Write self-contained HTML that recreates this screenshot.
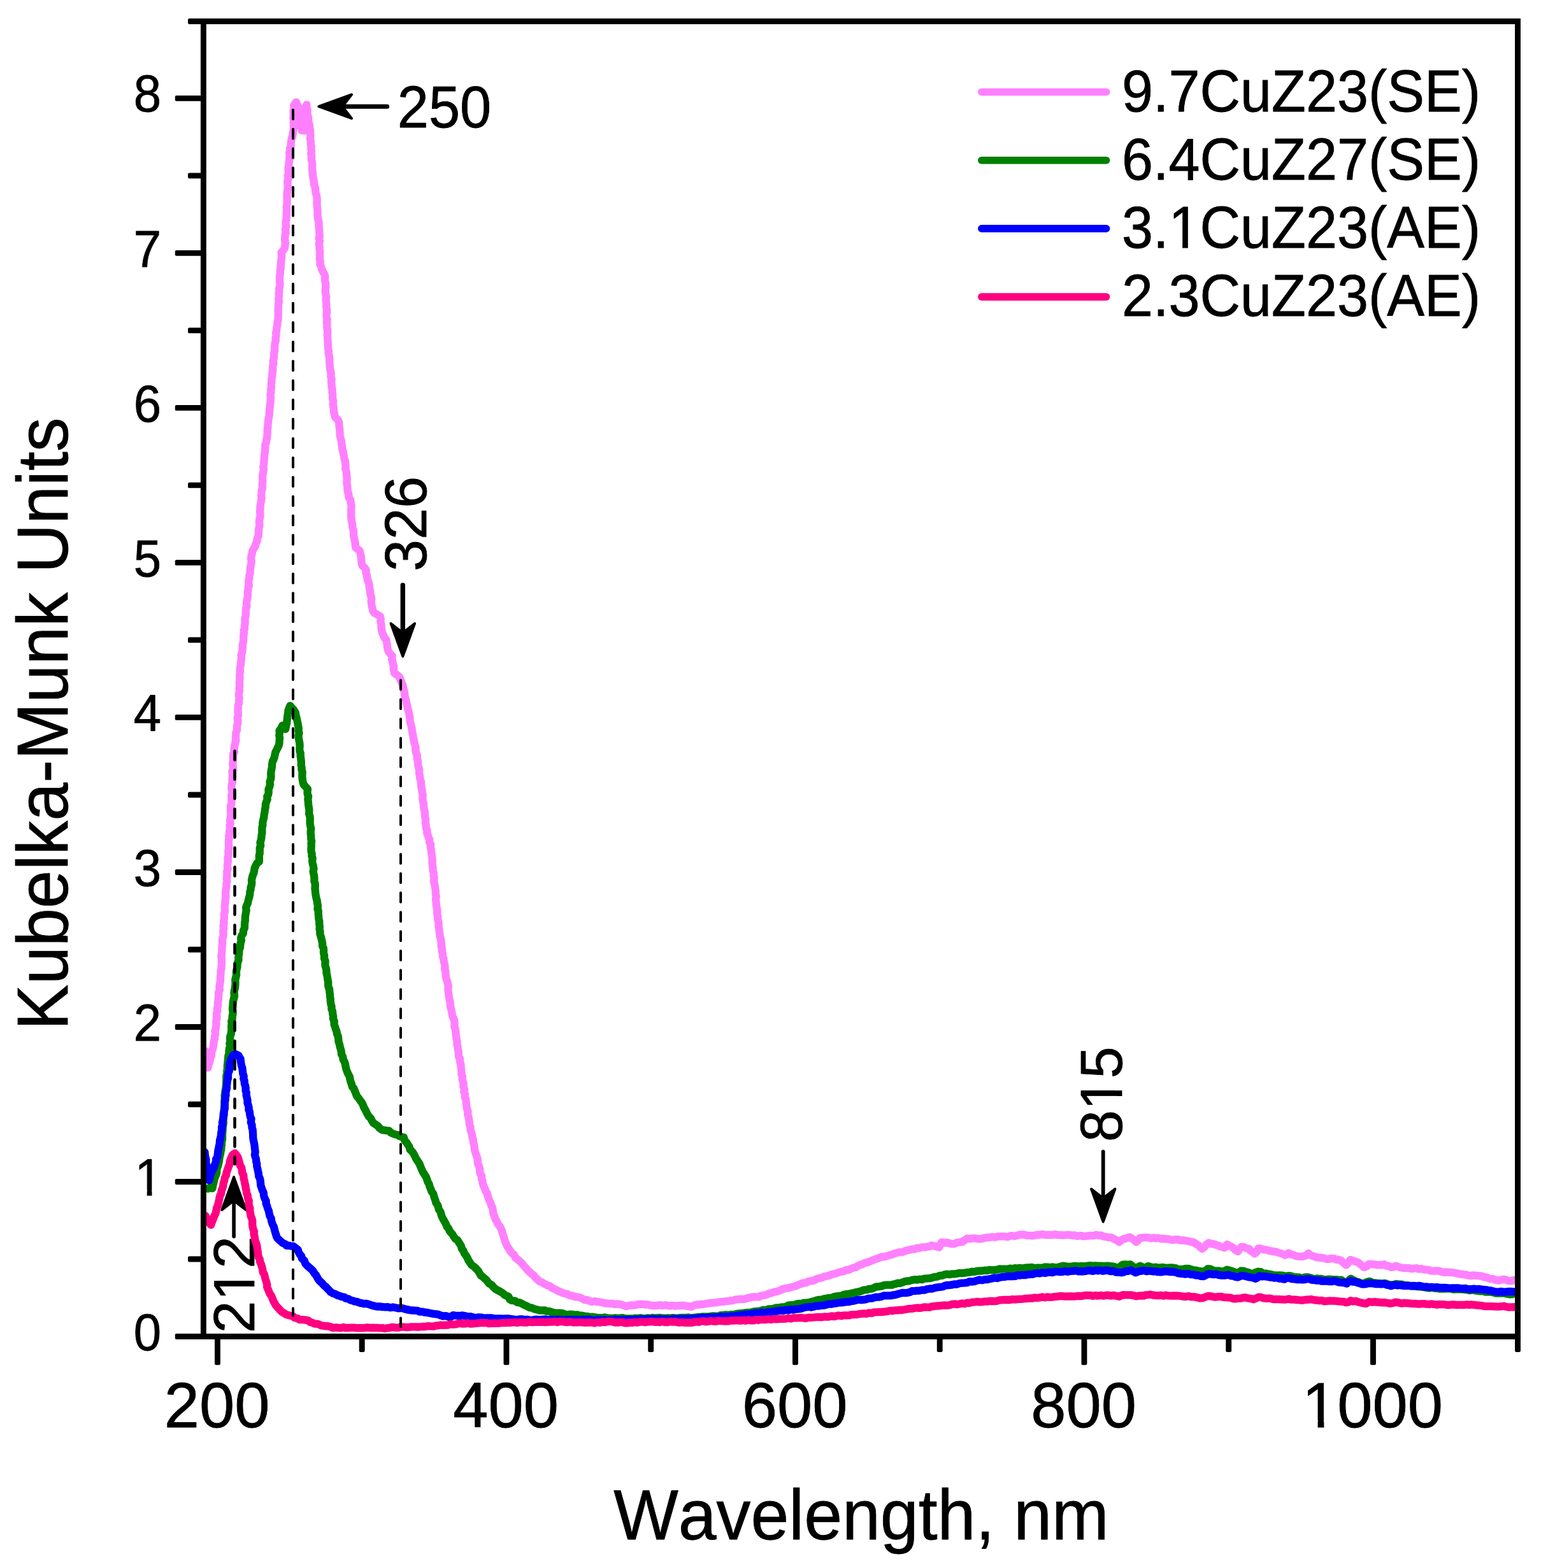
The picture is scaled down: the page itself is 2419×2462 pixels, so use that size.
<!DOCTYPE html><html><head><meta charset="utf-8"><title>Kubelka-Munk spectra</title>
<style>html,body{margin:0;padding:0;background:#fff;overflow:hidden}svg{display:block}text{font-family:'Liberation Sans', Arial, Helvetica, sans-serif;fill:#000;font-kerning:none;stroke:#000;stroke-width:0.8px;stroke-linejoin:round}</style></head><body>
<svg width="2419" height="2462" viewBox="0 0 2419 2462">
<rect width="2419" height="2462" fill="#fff"/>
<defs><clipPath id="plot"><rect x="319.4" y="33.5" width="2059.6" height="2065.1"/></clipPath></defs>
<g id="annotations">
<path d="M500.4 167.2 L552.0 148.5 L537.5 167.2 L552.0 185.9 Z" fill="#000" stroke="#000" stroke-width="4.0" stroke-linejoin="round"/><line x1="537.5" y1="167.2" x2="607.6" y2="167.2" stroke="#000" stroke-width="7.0" stroke-linecap="round"/>
<path d="M632.3 1030.6 L613.6 979.0 L632.3 993.5 L651.0 979.0 Z" fill="#000" stroke="#000" stroke-width="4.0" stroke-linejoin="round"/><line x1="632.3" y1="993.5" x2="632.3" y2="918.6" stroke="#000" stroke-width="7.4" stroke-linecap="round"/>
<path d="M1731.7 1918.4 L1713.0 1866.8 L1731.7 1881.3 L1750.4 1866.8 Z" fill="#000" stroke="#000" stroke-width="4.0" stroke-linejoin="round"/><line x1="1731.7" y1="1881.3" x2="1731.7" y2="1808.2" stroke="#000" stroke-width="5.8" stroke-linecap="round"/>
<path d="M367.1 1848.1 L385.8 1899.7 L367.1 1885.2 L348.4 1899.7 Z" fill="#000" stroke="#000" stroke-width="4.0" stroke-linejoin="round"/><line x1="367.1" y1="1885.2" x2="367.1" y2="1941.4" stroke="#000" stroke-width="5.6" stroke-linecap="round"/>
<text transform="translate(623.86,199.90) scale(0.9564,1)" font-size="92.37" text-anchor="start">250</text>
<text transform="translate(668.80,897.00) rotate(-90) scale(0.9655,1)" font-size="92.51" text-anchor="start">326</text>
<clipPath id="one1"><path clip-rule="evenodd" d="M-92.4 -120.1 H246.5 V55.4 H-92.4 Z M55.7 -10.1 H74.2 V2.7 H55.7 Z M83.2 -10.1 H100.9 V2.7 H83.2 Z"/></clipPath><text transform="translate(1760.70,1793.00) rotate(-90) scale(0.9718,1)" font-size="92.37" text-anchor="start" clip-path="url(#one1)">815</text>
<clipPath id="one2"><path clip-rule="evenodd" d="M-91.4 -118.8 H243.8 V54.8 H-91.4 Z M55.1 -9.9 H73.3 V2.7 H55.1 Z M82.3 -9.9 H99.8 V2.7 H82.3 Z"/></clipPath><text transform="translate(398.60,2093.19) rotate(-90) scale(0.9982,1)" font-size="91.37" text-anchor="start" clip-path="url(#one2)">212</text>
</g>
<g id="curves" clip-path="url(#plot)" fill="none" stroke-linejoin="round" stroke-linecap="round">
<path d="M322.0 1650.0 L322.1 1654.3 L323.5 1657.4 L323.7 1661.5 L324.5 1665.8 L324.3 1668.6 L325.9 1673.0 L326.4 1676.3 L327.0 1673.6 L327.8 1670.1 L329.8 1665.1 L329.6 1662.1 L331.9 1658.0 L331.9 1654.1 L332.6 1650.0 L334.2 1646.5 L334.9 1642.2 L335.3 1638.7 L335.8 1634.2 L337.0 1631.1 L337.2 1626.7 L338.1 1623.8 L337.3 1619.2 L338.5 1615.8 L339.2 1611.5 L339.5 1608.0 L339.1 1604.0 L340.3 1600.5 L340.2 1595.9 L339.9 1591.2 L341.4 1587.3 L340.9 1583.3 L342.0 1579.2 L342.0 1574.7 L342.6 1571.0 L343.0 1566.2 L343.3 1561.5 L343.1 1558.4 L344.8 1554.1 L344.3 1549.5 L344.9 1546.5 L345.6 1541.8 L346.1 1537.3 L346.0 1534.2 L346.5 1529.4 L346.4 1525.5 L347.6 1520.6 L347.5 1517.7 L347.9 1513.5 L348.0 1509.1 L347.9 1504.9 L347.3 1501.4 L348.3 1496.4 L348.4 1492.7 L348.4 1488.4 L348.9 1485.0 L349.3 1481.0 L348.8 1476.9 L349.3 1473.6 L350.5 1470.1 L350.7 1466.3 L350.3 1462.6 L351.2 1457.7 L350.5 1453.8 L351.8 1450.2 L351.2 1446.8 L351.8 1442.1 L351.8 1438.8 L352.1 1434.5 L353.1 1430.8 L352.8 1426.9 L352.6 1422.8 L353.5 1418.6 L353.3 1415.7 L354.1 1410.8 L354.5 1407.7 L354.0 1402.6 L354.4 1399.7 L354.7 1395.7 L355.7 1391.6 L355.3 1388.2 L356.4 1383.6 L355.8 1379.9 L356.3 1375.8 L356.4 1372.0 L356.2 1367.6 L357.7 1364.4 L356.9 1360.5 L357.1 1356.7 L357.9 1352.0 L357.4 1347.5 L358.5 1343.6 L358.6 1340.9 L358.4 1335.9 L359.1 1333.1 L359.1 1328.5 L358.9 1324.3 L358.9 1320.8 L359.5 1316.2 L359.3 1312.9 L359.9 1308.8 L360.2 1305.4 L361.2 1300.2 L360.4 1296.7 L361.7 1293.4 L361.0 1288.7 L361.7 1285.6 L362.3 1281.0 L362.5 1277.5 L362.1 1274.0 L362.0 1269.7 L362.0 1265.0 L363.4 1261.1 L363.4 1257.7 L363.7 1253.6 L363.2 1249.8 L364.1 1246.5 L364.4 1243.1 L363.5 1238.9 L363.6 1234.4 L363.7 1231.8 L364.9 1227.8 L364.4 1223.6 L365.1 1219.3 L365.0 1215.2 L364.4 1211.3 L365.7 1207.8 L365.9 1203.7 L365.1 1200.2 L366.0 1195.2 L365.9 1191.3 L365.7 1188.7 L366.1 1184.0 L368.0 1180.5 L367.4 1176.4 L368.1 1173.5 L368.5 1170.0 L369.4 1166.3 L370.5 1161.6 L370.0 1158.1 L370.2 1154.6 L370.4 1150.0 L372.1 1146.6 L372.0 1143.1 L372.0 1138.8 L373.1 1136.1 L373.4 1131.0 L372.6 1127.7 L373.9 1123.7 L373.8 1119.9 L373.5 1115.8 L373.8 1111.5 L373.7 1107.6 L375.3 1103.9 L375.1 1100.2 L375.6 1095.9 L374.9 1092.0 L375.1 1088.8 L376.1 1084.1 L375.5 1080.6 L376.1 1076.7 L375.8 1072.0 L376.0 1068.2 L376.6 1064.2 L376.1 1061.1 L376.5 1057.3 L377.0 1053.5 L376.7 1049.1 L377.7 1044.5 L378.1 1040.7 L378.4 1037.7 L379.0 1032.5 L378.5 1028.6 L380.2 1024.1 L380.6 1019.7 L381.0 1015.8 L380.6 1013.2 L381.6 1009.5 L382.1 1005.5 L382.2 1001.0 L382.3 997.2 L383.0 994.1 L382.7 989.5 L384.1 986.8 L383.9 982.7 L384.7 978.8 L384.5 974.9 L384.6 970.7 L385.6 967.5 L385.8 963.3 L385.9 959.6 L385.9 956.1 L387.3 952.5 L387.1 949.0 L387.2 944.4 L388.0 941.4 L388.6 937.5 L389.0 934.2 L388.7 930.1 L389.4 926.0 L389.7 922.7 L390.8 919.5 L390.3 915.3 L390.3 910.8 L391.4 908.2 L391.2 904.2 L392.6 899.9 L392.7 896.9 L392.7 892.9 L393.6 889.0 L394.2 885.5 L394.7 881.1 L394.1 876.7 L394.6 873.2 L395.8 868.5 L396.1 865.5 L398.3 861.3 L400.6 857.7 L401.4 854.1 L403.5 849.7 L403.7 846.1 L405.7 841.1 L405.8 838.3 L406.0 834.4 L406.1 830.9 L407.2 826.4 L407.3 822.7 L406.8 818.8 L407.1 815.9 L408.6 810.7 L408.4 807.0 L408.0 802.8 L408.5 799.3 L408.4 794.5 L409.3 790.2 L409.9 786.9 L410.5 782.2 L410.0 778.6 L410.3 774.9 L410.5 771.2 L411.6 767.6 L412.1 763.5 L411.7 760.1 L412.4 755.9 L412.2 751.7 L412.1 748.7 L412.4 744.8 L413.3 741.3 L413.9 737.5 L413.3 733.1 L414.2 729.0 L414.4 725.3 L414.7 721.0 L414.9 717.8 L415.0 713.9 L415.9 710.6 L416.0 706.6 L416.4 702.0 L416.3 698.2 L417.7 695.1 L418.5 690.6 L419.2 686.6 L419.5 682.6 L419.8 679.5 L419.6 674.4 L420.4 670.9 L420.5 666.3 L420.9 662.9 L421.3 659.6 L422.0 655.5 L422.8 651.6 L422.6 647.6 L423.2 643.5 L423.6 639.3 L423.9 635.6 L424.6 631.9 L424.7 627.9 L424.9 623.8 L424.5 619.4 L425.3 616.3 L425.3 611.3 L426.0 607.9 L425.7 603.3 L426.1 600.3 L426.3 595.7 L427.1 591.1 L427.3 588.3 L427.9 583.4 L428.3 579.5 L428.1 574.9 L429.4 570.8 L428.7 567.5 L429.7 562.7 L430.1 559.1 L430.0 554.9 L431.2 551.0 L431.0 546.6 L431.3 542.5 L431.7 538.8 L433.0 534.1 L432.5 530.9 L433.6 526.7 L433.1 522.7 L434.3 517.9 L434.4 514.5 L435.3 509.6 L435.5 505.6 L436.4 501.9 L436.7 498.3 L436.7 493.6 L436.8 489.4 L436.5 486.1 L437.0 482.1 L437.0 478.1 L437.9 473.4 L437.2 469.5 L438.0 465.1 L437.7 461.0 L438.5 458.1 L438.2 452.9 L439.1 449.9 L439.6 445.6 L439.0 441.9 L438.9 437.6 L439.1 433.1 L439.9 429.0 L439.7 424.8 L440.8 421.0 L440.7 416.6 L441.2 412.7 L441.2 409.5 L442.0 404.2 L442.0 401.3 L441.6 396.6 L444.5 393.4 L446.9 389.4 L447.6 384.3 L448.0 380.1 L447.2 377.0 L447.2 372.5 L447.6 368.6 L448.7 365.2 L447.8 360.0 L449.2 355.9 L448.6 352.0 L448.5 347.8 L449.5 344.8 L449.7 340.9 L449.9 336.2 L450.0 333.0 L450.2 327.9 L449.6 324.8 L450.5 320.0 L450.6 316.2 L450.7 311.5 L450.6 307.9 L450.6 304.6 L451.0 300.2 L451.6 296.3 L451.8 292.3 L451.3 288.5 L451.3 284.4 L452.5 280.4 L451.7 275.4 L453.0 272.0 L452.7 268.7 L452.5 264.2 L453.3 259.7 L453.5 256.5 L454.4 251.6 L454.2 247.8 L454.8 243.9 L454.0 240.3 L455.3 236.3 L455.1 233.0 L456.7 229.2 L456.6 224.6 L457.2 220.9 L458.0 216.6 L459.3 213.6 L459.7 208.4 L460.4 205.0 L461.0 201.4 L460.9 197.4 L460.6 193.8 L461.2 189.0 L460.4 185.2 L461.0 180.8 L460.9 177.6 L460.6 174.0 L461.6 169.3 L461.2 165.4 L463.0 163.4 L464.9 160.4 L466.7 164.9 L469.1 168.0 L469.2 173.0 L470.2 177.0 L471.3 181.2 L471.6 185.2 L472.2 189.1 L471.5 192.8 L472.5 197.6 L473.3 201.2 L473.7 204.8 L479.2 205.2 L478.7 200.9 L479.8 196.9 L478.9 192.3 L479.9 188.8 L480.5 184.2 L480.0 180.9 L479.8 176.0 L480.7 172.2 L480.4 168.1 L481.4 164.4 L481.1 167.8 L482.7 172.7 L482.3 177.1 L482.6 180.4 L484.3 185.0 L484.0 189.3 L485.0 193.3 L485.9 196.8 L486.2 201.0 L487.1 205.5 L487.0 209.6 L487.6 212.9 L486.8 217.7 L487.8 221.5 L487.7 225.4 L488.5 230.1 L488.3 233.1 L488.9 237.8 L488.2 241.7 L489.2 245.4 L488.6 249.9 L489.9 254.6 L490.3 258.4 L490.0 262.6 L490.2 266.6 L490.8 271.3 L490.9 274.8 L491.4 278.3 L492.4 282.6 L493.1 287.1 L493.2 290.6 L495.0 294.7 L495.1 298.1 L495.5 302.8 L496.9 306.4 L497.5 310.7 L497.7 314.0 L497.5 318.6 L497.7 322.6 L498.1 326.0 L498.4 329.7 L498.6 334.2 L498.4 337.9 L499.0 342.9 L499.8 346.1 L500.7 350.1 L500.3 354.9 L500.9 358.5 L501.3 362.6 L501.3 366.6 L501.8 371.0 L500.6 374.2 L501.9 378.4 L500.7 382.5 L501.5 387.5 L501.5 391.2 L502.2 394.4 L502.0 399.7 L502.0 403.1 L501.8 407.7 L502.8 410.5 L502.3 415.0 L504.0 418.3 L505.0 422.2 L506.9 426.6 L509.0 430.2 L510.3 432.9 L510.1 437.8 L510.1 441.6 L511.2 445.1 L511.3 449.1 L510.8 454.2 L510.7 457.7 L511.2 462.2 L512.2 465.4 L511.6 470.3 L511.9 473.4 L512.4 477.6 L512.2 481.1 L513.0 486.1 L513.1 490.5 L512.4 494.0 L512.8 498.3 L513.6 501.6 L513.0 506.3 L513.4 509.6 L513.3 514.2 L514.1 518.8 L514.2 522.3 L513.8 526.1 L514.2 530.5 L514.4 533.9 L514.7 538.3 L514.9 542.5 L514.9 547.0 L516.0 550.6 L515.5 554.4 L516.8 559.0 L517.4 563.5 L517.1 567.0 L517.5 570.6 L517.7 574.9 L518.0 579.4 L519.3 583.6 L519.6 587.3 L519.4 591.9 L520.7 595.8 L519.9 599.3 L520.6 604.0 L520.6 607.2 L521.7 612.1 L521.5 615.3 L522.1 618.3 L522.1 622.3 L522.3 626.9 L523.2 629.7 L522.6 634.5 L523.2 638.1 L523.9 641.9 L524.1 646.2 L525.2 651.6 L526.0 654.8 L528.7 657.5 L531.1 660.1 L532.2 664.1 L532.4 668.5 L532.9 672.4 L533.4 676.0 L533.5 680.3 L533.8 684.1 L534.6 688.1 L535.9 692.6 L536.2 696.0 L536.9 700.4 L537.3 705.0 L538.5 708.4 L538.9 712.4 L540.0 715.9 L540.3 719.6 L541.8 723.5 L542.0 728.0 L542.7 731.9 L542.1 735.5 L543.4 739.4 L544.1 743.6 L544.4 747.8 L544.7 752.8 L544.4 756.8 L544.6 760.7 L545.4 764.0 L545.4 768.2 L546.1 772.2 L547.3 776.1 L547.5 781.0 L550.1 784.9 L550.6 789.2 L551.5 792.8 L551.6 796.7 L551.2 800.9 L551.4 804.2 L551.1 807.8 L551.3 811.9 L551.4 814.7 L552.1 819.0 L553.2 823.5 L553.4 828.6 L554.8 832.4 L555.1 836.8 L555.0 840.7 L555.7 844.3 L556.5 847.7 L557.7 852.7 L557.7 856.6 L558.5 860.2 L562.6 863.0 L564.6 865.1 L565.6 869.1 L566.7 873.6 L567.1 878.0 L567.4 881.4 L568.1 886.8 L569.6 889.1 L572.2 891.3 L574.7 894.8 L574.5 898.9 L575.8 903.0 L576.3 907.0 L577.0 910.7 L579.0 915.3 L579.5 919.3 L579.9 923.5 L581.1 928.0 L581.1 931.8 L582.4 936.2 L583.3 940.5 L582.7 943.8 L583.1 947.3 L583.5 951.4 L584.9 956.1 L585.3 959.5 L587.4 962.4 L591.3 964.3 L593.1 965.5 L596.9 968.0 L597.7 971.5 L597.3 974.5 L598.3 979.6 L598.8 982.9 L598.4 986.0 L599.4 990.8 L600.0 993.5 L601.7 997.4 L603.6 1001.3 L606.5 1004.7 L607.0 1008.4 L607.7 1011.8 L607.9 1015.8 L608.6 1019.3 L609.7 1022.9 L612.7 1026.7 L615.8 1030.3 L615.0 1035.1 L616.0 1037.9 L616.7 1042.1 L618.1 1046.0 L617.7 1049.5 L618.4 1053.2 L618.9 1056.5 L622.9 1059.4 L626.5 1062.6 L628.1 1065.4 L629.7 1070.0 L631.3 1073.4 L632.5 1076.7 L633.0 1080.2 L634.1 1084.1 L635.0 1087.8 L635.4 1091.9 L636.2 1096.5 L637.5 1099.6 L638.2 1104.5 L639.2 1108.0 L639.8 1111.4 L640.9 1115.2 L642.0 1119.1 L642.7 1123.5 L643.4 1127.7 L643.5 1131.6 L644.2 1134.9 L645.3 1138.7 L646.5 1143.4 L646.8 1147.0 L647.4 1150.6 L648.3 1154.1 L648.7 1158.2 L649.6 1161.8 L650.4 1166.4 L651.6 1170.2 L652.5 1173.8 L652.3 1178.7 L653.4 1182.7 L655.0 1186.5 L654.5 1190.9 L656.0 1194.2 L656.0 1198.6 L656.5 1203.3 L657.9 1207.2 L658.0 1211.5 L658.2 1215.3 L659.0 1218.4 L659.4 1222.7 L660.9 1227.0 L661.1 1231.5 L661.2 1235.4 L662.3 1239.8 L662.6 1243.6 L663.7 1247.4 L663.4 1250.7 L663.5 1255.4 L664.0 1259.0 L665.0 1262.2 L665.1 1267.4 L666.0 1271.6 L666.9 1274.5 L667.0 1278.5 L667.1 1283.2 L668.3 1287.5 L667.7 1291.4 L668.6 1295.1 L668.8 1300.1 L670.6 1303.7 L670.2 1307.7 L671.7 1311.3 L672.3 1314.1 L674.2 1318.0 L673.9 1322.1 L676.2 1326.3 L675.8 1330.6 L676.8 1334.5 L677.0 1337.9 L677.8 1342.1 L678.3 1346.3 L678.7 1350.3 L678.5 1354.6 L678.8 1358.0 L679.6 1363.1 L679.6 1366.9 L680.7 1370.6 L680.7 1374.7 L681.6 1377.9 L681.1 1381.7 L681.4 1385.9 L682.3 1389.0 L683.0 1393.1 L683.5 1396.7 L683.9 1401.0 L683.9 1404.3 L684.7 1407.4 L684.1 1411.7 L684.5 1416.3 L684.7 1419.0 L685.2 1423.3 L686.2 1427.8 L686.5 1431.0 L685.9 1434.2 L687.2 1439.2 L687.2 1443.4 L688.1 1446.7 L688.7 1450.0 L688.5 1455.1 L689.2 1457.9 L689.7 1462.7 L690.1 1465.9 L690.6 1470.2 L691.8 1473.9 L692.5 1478.8 L692.9 1481.5 L692.7 1486.6 L693.9 1489.5 L693.8 1493.7 L694.9 1497.2 L695.0 1502.1 L696.4 1505.1 L696.7 1509.9 L697.7 1513.5 L698.5 1517.1 L698.0 1521.0 L699.3 1524.9 L699.5 1528.9 L699.9 1533.9 L700.9 1537.9 L702.1 1540.8 L703.0 1544.4 L703.8 1548.4 L703.4 1553.1 L703.7 1557.3 L704.3 1561.3 L704.7 1564.9 L705.5 1568.5 L706.4 1572.5 L706.7 1576.8 L706.9 1580.1 L708.1 1584.2 L709.0 1588.3 L709.6 1591.6 L710.3 1595.6 L712.5 1600.2 L713.4 1603.8 L713.6 1607.7 L713.3 1611.7 L714.7 1616.2 L715.5 1620.2 L715.5 1623.7 L716.0 1627.5 L716.7 1631.6 L717.5 1635.4 L717.5 1639.9 L718.4 1643.4 L718.9 1647.7 L719.7 1650.9 L719.9 1655.3 L720.2 1659.0 L722.0 1662.7 L722.1 1667.2 L723.4 1671.2 L723.6 1674.7 L724.0 1679.0 L724.4 1683.1 L724.5 1687.0 L726.0 1690.3 L725.5 1694.3 L726.9 1698.9 L727.8 1702.0 L727.2 1705.8 L729.0 1710.5 L728.3 1714.5 L730.0 1718.3 L729.6 1722.8 L731.0 1725.6 L731.7 1730.0 L732.1 1733.7 L732.4 1737.8 L733.3 1741.8 L734.5 1745.1 L734.2 1750.3 L735.4 1753.8 L736.1 1757.2 L736.6 1761.1 L737.0 1766.1 L738.6 1769.9 L738.4 1773.6 L739.6 1777.3 L740.9 1780.5 L741.3 1785.2 L742.8 1789.1 L742.8 1793.2 L743.9 1796.7 L744.7 1800.4 L744.9 1804.3 L745.8 1808.3 L747.3 1812.6 L748.5 1816.3 L749.7 1819.4 L749.8 1823.1 L750.2 1827.3 L751.7 1830.6 L753.3 1835.7 L753.0 1838.3 L754.0 1843.2 L756.1 1846.2 L755.9 1850.8 L757.4 1854.1 L757.9 1858.3 L759.1 1862.3 L761.1 1866.0 L762.2 1869.7 L764.6 1873.5 L765.6 1877.5 L766.8 1881.2 L767.9 1884.7 L770.3 1889.2 L770.8 1892.2 L772.9 1895.8 L773.9 1900.6 L774.1 1904.3 L775.2 1907.0 L776.5 1911.2 L778.1 1915.0 L780.5 1919.0 L781.6 1922.1 L784.6 1925.6 L787.0 1930.3 L788.1 1933.2 L789.3 1937.6 L790.6 1941.3 L791.8 1945.7 L793.2 1950.3 L795.2 1954.7 L797.1 1958.3 L799.1 1961.0 L801.2 1964.8 L804.4 1968.2 L807.0 1970.6 L809.4 1975.1 L813.6 1978.2 L816.3 1980.9 L818.7 1982.9 L820.9 1985.7 L823.5 1988.7 L825.6 1991.1 L828.4 1994.5 L832.0 1997.6 L834.2 2000.0 L838.0 2002.4 L840.4 2005.9 L843.7 2008.8 L846.8 2011.9 L850.9 2013.5 L855.2 2016.3 L859.7 2018.4 L863.3 2019.5 L866.5 2022.2 L871.6 2024.5 L874.4 2026.1 L879.4 2028.3 L883.2 2030.1 L887.1 2031.1 L890.8 2032.0 L894.0 2034.1 L897.8 2034.3 L902.6 2036.3 L905.9 2036.3 L910.8 2037.5 L914.1 2038.9 L917.5 2041.1 L922.4 2041.2 L925.5 2042.8 L929.5 2044.0 L932.9 2043.2 L936.8 2043.8 L941.7 2044.5 L945.8 2045.2 L949.3 2046.3 L953.6 2046.5 L957.6 2047.0 L961.4 2046.8 L965.0 2048.0 L968.9 2047.4 L972.8 2047.8 L977.4 2049.2 L982.9 2051.1 L987.0 2049.8 L990.3 2049.5 L993.6 2049.5 L998.0 2049.2 L1001.8 2047.8 L1004.6 2048.0 L1008.1 2047.6 L1012.5 2048.6 L1016.1 2048.2 L1020.3 2049.4 L1024.6 2050.0 L1028.6 2050.1 L1032.5 2049.6 L1036.2 2049.1 L1039.7 2050.0 L1044.7 2049.2 L1047.7 2049.7 L1051.8 2050.5 L1055.7 2049.8 L1060.0 2050.7 L1063.6 2050.2 L1067.2 2050.0 L1072.4 2049.7 L1075.5 2050.3 L1080.6 2050.9 L1085.3 2051.9 L1088.9 2049.8 L1092.9 2048.5 L1097.9 2048.7 L1099.9 2047.6 L1104.4 2047.9 L1107.5 2047.1 L1111.5 2046.6 L1115.1 2045.9 L1119.8 2045.7 L1124.2 2045.3 L1127.7 2044.5 L1130.8 2044.1 L1135.5 2043.9 L1138.9 2043.2 L1142.7 2043.0 L1147.7 2042.1 L1151.5 2041.8 L1154.9 2040.4 L1159.4 2040.2 L1162.6 2039.7 L1167.4 2039.9 L1171.0 2039.3 L1174.4 2038.0 L1178.1 2037.1 L1183.2 2036.2 L1186.9 2036.3 L1191.3 2036.4 L1194.0 2034.8 L1199.2 2033.7 L1202.0 2033.3 L1206.5 2031.3 L1210.4 2030.3 L1214.2 2029.2 L1217.7 2028.2 L1222.7 2026.9 L1226.5 2025.3 L1229.5 2023.8 L1234.6 2022.7 L1237.7 2022.3 L1242.1 2021.1 L1245.7 2020.1 L1249.6 2019.0 L1253.0 2017.6 L1257.0 2015.9 L1261.4 2014.4 L1265.4 2014.1 L1268.7 2012.0 L1274.0 2011.2 L1277.1 2010.6 L1281.6 2008.4 L1285.3 2007.2 L1289.5 2006.5 L1293.4 2004.6 L1297.6 2003.7 L1301.4 2002.8 L1305.4 2001.1 L1308.1 2000.5 L1313.3 1999.3 L1316.7 1997.7 L1320.6 1996.9 L1325.1 1996.1 L1328.4 1994.1 L1331.9 1994.1 L1336.5 1991.8 L1340.4 1990.4 L1343.6 1989.9 L1346.7 1987.4 L1350.3 1986.0 L1354.3 1984.8 L1357.9 1983.0 L1361.8 1982.1 L1365.8 1980.5 L1369.2 1979.1 L1373.1 1977.5 L1376.3 1976.4 L1379.9 1975.1 L1383.7 1973.4 L1388.2 1973.4 L1391.9 1972.1 L1396.2 1970.8 L1400.1 1970.1 L1401.6 1969.2 L1405.4 1967.9 L1408.7 1966.9 L1412.9 1966.0 L1416.9 1966.0 L1420.6 1964.2 L1424.6 1963.2 L1427.6 1962.6 L1431.7 1961.3 L1435.9 1961.3 L1439.1 1959.7 L1443.2 1959.7 L1447.5 1958.2 L1451.1 1958.6 L1455.8 1957.5 L1459.5 1957.1 L1462.6 1955.3 L1466.9 1956.6 L1470.7 1957.2 L1474.0 1958.7 L1475.8 1954.2 L1478.3 1950.5 L1483.0 1951.7 L1487.0 1951.1 L1490.5 1952.3 L1494.7 1953.1 L1499.1 1952.8 L1502.0 1951.1 L1507.0 1950.5 L1510.9 1949.9 L1514.4 1947.1 L1517.7 1944.7 L1522.5 1945.2 L1525.8 1944.4 L1529.8 1944.4 L1533.6 1944.9 L1537.9 1945.5 L1541.2 1945.0 L1545.8 1943.7 L1549.5 1943.1 L1554.2 1942.7 L1557.0 1942.2 L1561.5 1942.7 L1565.7 1941.7 L1570.0 1941.3 L1573.6 1941.3 L1577.7 1941.4 L1581.6 1942.2 L1585.5 1940.7 L1588.9 1940.2 L1593.3 1940.9 L1597.0 1939.9 L1601.1 1938.6 L1604.7 1938.4 L1609.1 1939.1 L1612.5 1939.9 L1616.2 1939.8 L1620.2 1940.3 L1624.8 1939.7 L1628.6 1938.7 L1631.8 1939.0 L1636.8 1937.9 L1640.2 1939.0 L1644.1 1939.1 L1648.4 1938.8 L1652.7 1939.0 L1656.2 1938.1 L1659.9 1939.1 L1664.0 1939.1 L1667.6 1939.6 L1671.4 1939.5 L1675.6 1938.9 L1678.7 1939.1 L1682.8 1939.8 L1686.1 1939.4 L1690.9 1940.9 L1694.0 1940.4 L1697.9 1940.1 L1700.1 1941.2 L1704.8 1940.9 L1708.5 1940.3 L1713.2 1940.2 L1716.8 1940.2 L1720.9 1939.0 L1725.3 1939.9 L1728.7 1939.6 L1732.0 1941.5 L1735.7 1942.0 L1739.3 1942.6 L1744.2 1943.0 L1747.0 1944.3 L1750.5 1946.3 L1753.4 1947.7 L1756.9 1950.1 L1760.0 1947.6 L1762.7 1945.6 L1766.5 1944.9 L1770.3 1943.6 L1773.7 1942.4 L1777.5 1945.2 L1780.5 1947.2 L1783.5 1950.3 L1787.0 1947.0 L1789.7 1943.6 L1794.0 1943.4 L1798.2 1943.2 L1801.5 1943.1 L1806.9 1944.3 L1810.8 1943.5 L1814.7 1944.4 L1818.2 1943.8 L1821.6 1945.0 L1826.7 1944.9 L1829.9 1945.3 L1834.5 1945.5 L1837.3 1946.6 L1841.9 1946.9 L1845.9 1946.1 L1849.6 1946.2 L1853.3 1947.7 L1857.8 1947.4 L1861.0 1948.2 L1865.6 1948.9 L1869.6 1950.0 L1873.2 1950.3 L1876.9 1952.9 L1880.7 1954.9 L1883.3 1957.5 L1886.9 1960.7 L1890.4 1958.2 L1893.3 1954.4 L1897.5 1951.4 L1900.7 1953.0 L1904.9 1953.2 L1908.3 1954.5 L1912.4 1955.6 L1915.5 1957.1 L1918.3 1957.9 L1921.9 1959.1 L1924.4 1956.8 L1926.5 1953.9 L1929.4 1956.0 L1933.6 1957.9 L1936.8 1960.0 L1939.3 1963.0 L1943.3 1965.0 L1945.4 1961.4 L1948.8 1957.6 L1952.4 1957.9 L1956.0 1959.7 L1960.7 1960.7 L1962.8 1963.7 L1967.4 1966.5 L1969.5 1968.6 L1972.2 1966.1 L1974.1 1963.4 L1975.4 1960.1 L1979.1 1960.4 L1984.0 1962.2 L1987.7 1962.3 L1991.2 1963.6 L1994.8 1964.3 L1997.7 1964.6 L1999.4 1965.2 L2003.6 1965.7 L2006.8 1966.9 L2010.6 1967.9 L2013.6 1969.0 L2016.7 1970.8 L2020.1 1969.9 L2022.6 1967.5 L2026.3 1969.5 L2030.3 1970.2 L2033.3 1972.0 L2037.1 1972.6 L2040.8 1972.8 L2044.7 1973.0 L2049.8 1971.3 L2054.1 1968.0 L2057.6 1971.1 L2061.7 1972.3 L2065.5 1973.9 L2070.1 1974.7 L2074.9 1974.9 L2078.9 1975.7 L2083.1 1977.0 L2086.6 1976.8 L2090.2 1975.8 L2095.0 1976.3 L2097.5 1977.8 L2102.1 1978.0 L2105.2 1979.4 L2107.2 1981.2 L2110.0 1983.8 L2113.2 1986.3 L2115.7 1983.8 L2118.1 1980.0 L2119.9 1978.0 L2123.2 1979.3 L2128.1 1980.9 L2131.6 1982.1 L2135.5 1985.3 L2138.1 1987.1 L2141.1 1989.9 L2146.0 1988.0 L2148.7 1984.8 L2152.9 1985.1 L2157.1 1985.2 L2161.6 1986.3 L2165.9 1985.9 L2169.1 1986.3 L2172.9 1985.1 L2176.4 1987.5 L2180.6 1988.1 L2183.4 1989.9 L2187.5 1989.4 L2191.1 1987.7 L2194.3 1988.7 L2198.6 1990.2 L2200.1 1990.5 L2204.7 1991.2 L2208.1 1991.0 L2211.7 1991.1 L2216.3 1992.2 L2219.8 1991.5 L2223.9 1991.1 L2227.0 1992.7 L2232.0 1992.2 L2234.3 1993.3 L2238.2 1993.5 L2242.5 1993.9 L2245.8 1995.4 L2250.6 1995.6 L2254.9 1995.2 L2259.5 1995.7 L2262.6 1996.8 L2267.7 1997.9 L2270.7 1997.3 L2275.0 1997.7 L2280.4 1998.1 L2284.1 1998.7 L2287.5 1999.5 L2292.1 2000.6 L2297.2 2001.2 L2300.9 2001.5 L2304.6 2002.5 L2309.1 2003.3 L2313.0 2002.3 L2317.0 2002.9 L2321.5 2003.2 L2326.6 2003.9 L2329.7 2005.4 L2333.6 2005.6 L2336.8 2007.0 L2340.4 2008.0 L2344.1 2008.2 L2347.9 2009.7 L2353.0 2010.7 L2355.8 2009.6 L2360.3 2008.9 L2364.4 2009.5 L2367.5 2011.1 L2372.0 2011.3 L2377.7 2009.8 L2382.1 2010.6 L2382.3 2010.5" stroke="#FF80FF" stroke-width="12.3"/>
<path d="M322.0 1866.0 L326.3 1866.5 L328.7 1865.1 L333.5 1865.8 L334.3 1861.1 L335.3 1857.4 L336.4 1852.7 L337.3 1849.0 L338.8 1845.7 L340.0 1842.2 L340.2 1838.9 L340.6 1834.6 L342.1 1831.0 L342.8 1827.9 L343.9 1823.4 L344.4 1818.7 L345.0 1815.2 L345.8 1812.7 L346.5 1807.9 L347.2 1805.0 L347.5 1801.5 L348.0 1797.6 L347.9 1794.2 L349.1 1788.7 L349.1 1785.2 L349.0 1780.6 L349.4 1776.9 L349.7 1772.5 L349.8 1768.2 L350.8 1763.3 L350.5 1759.7 L351.0 1754.8 L350.5 1750.3 L351.4 1745.7 L351.9 1741.6 L352.2 1737.3 L352.6 1733.6 L352.3 1729.0 L352.8 1724.8 L352.6 1720.0 L353.2 1716.7 L353.8 1711.6 L354.4 1708.7 L354.9 1704.1 L355.1 1700.0 L355.4 1696.4 L355.2 1693.4 L355.4 1689.0 L356.8 1684.8 L356.3 1681.8 L357.0 1677.7 L356.8 1673.3 L357.4 1669.9 L357.7 1666.4 L358.0 1662.2 L358.4 1657.7 L359.9 1653.7 L359.4 1650.6 L360.1 1645.8 L361.3 1642.1 L360.4 1638.5 L361.5 1635.2 L361.1 1630.7 L361.3 1627.0 L362.7 1623.6 L363.2 1619.7 L363.4 1615.8 L363.2 1611.2 L363.8 1607.5 L363.3 1603.8 L364.7 1599.5 L364.5 1599.9 L364.7 1595.4 L365.6 1591.5 L365.5 1587.7 L365.0 1583.8 L365.5 1579.0 L365.7 1575.1 L366.1 1571.7 L367.0 1568.1 L368.0 1564.0 L367.5 1559.2 L367.9 1555.3 L368.9 1551.5 L369.4 1546.7 L369.5 1543.0 L369.3 1538.2 L370.3 1534.2 L371.2 1530.3 L370.8 1526.3 L371.5 1522.4 L372.4 1518.8 L372.6 1515.1 L373.0 1511.5 L374.5 1507.4 L374.3 1503.1 L375.0 1498.5 L375.3 1495.4 L375.5 1491.1 L377.0 1487.7 L377.1 1484.7 L377.8 1480.1 L378.9 1476.5 L378.1 1473.2 L379.5 1468.7 L381.9 1465.3 L382.0 1461.0 L383.9 1457.1 L384.0 1453.3 L384.1 1449.0 L384.8 1445.9 L384.8 1441.7 L385.2 1437.5 L385.9 1433.5 L386.7 1429.4 L386.1 1425.1 L387.1 1421.9 L389.0 1417.9 L390.1 1412.4 L391.1 1409.2 L392.2 1404.6 L392.3 1400.8 L393.5 1396.8 L393.6 1393.3 L394.8 1390.0 L395.3 1386.3 L395.0 1381.7 L395.8 1378.0 L396.7 1374.7 L398.4 1370.6 L399.3 1366.0 L399.6 1363.3 L401.5 1359.0 L403.6 1355.0 L406.9 1352.8 L406.9 1347.5 L406.8 1343.5 L407.7 1340.0 L407.8 1335.6 L407.7 1331.5 L409.2 1327.7 L408.4 1323.2 L409.7 1318.9 L410.4 1315.3 L410.6 1311.3 L411.4 1307.9 L411.3 1303.0 L411.5 1298.9 L412.3 1296.0 L412.3 1291.3 L413.3 1287.1 L414.2 1283.7 L414.7 1278.9 L415.6 1274.6 L415.9 1270.9 L416.8 1267.2 L416.9 1263.0 L418.0 1259.1 L419.7 1255.1 L419.2 1250.9 L421.1 1247.6 L421.7 1243.6 L421.4 1239.8 L423.1 1235.4 L424.0 1231.8 L423.5 1227.8 L425.1 1223.0 L425.5 1219.6 L425.2 1216.0 L425.5 1211.8 L426.4 1207.3 L427.0 1203.7 L427.0 1200.4 L427.8 1195.4 L429.4 1192.9 L430.7 1189.1 L431.5 1185.3 L432.4 1181.1 L434.4 1177.2 L435.5 1174.8 L437.4 1171.3 L438.5 1166.8 L438.6 1163.4 L439.0 1158.6 L438.3 1155.0 L438.9 1150.9 L438.5 1147.3 L441.8 1143.1 L443.2 1139.2 L445.7 1142.5 L448.1 1144.9 L448.9 1140.6 L450.1 1135.8 L450.5 1132.0 L450.8 1128.6 L451.4 1123.9 L452.2 1119.3 L452.5 1115.6 L453.7 1112.3 L455.4 1108.1 L457.7 1111.0 L461.0 1114.5 L463.8 1119.0 L464.4 1123.0 L465.5 1126.6 L466.2 1130.4 L467.2 1134.7 L468.0 1139.1 L468.9 1143.9 L468.5 1147.5 L469.5 1151.0 L468.6 1154.8 L468.9 1159.3 L469.5 1162.8 L470.3 1166.6 L470.6 1171.1 L470.3 1175.3 L470.5 1179.3 L471.7 1182.5 L471.7 1186.9 L472.2 1190.4 L472.7 1194.4 L472.9 1198.2 L472.7 1201.5 L473.6 1204.9 L473.5 1208.3 L474.7 1212.3 L474.4 1216.8 L474.4 1220.7 L474.7 1223.1 L475.4 1227.4 L476.5 1231.8 L478.5 1233.8 L480.4 1236.2 L483.0 1239.0 L482.5 1243.3 L482.7 1246.8 L484.1 1250.4 L483.3 1254.5 L483.8 1258.8 L484.1 1262.6 L484.5 1266.4 L485.3 1270.5 L485.3 1274.9 L485.1 1277.8 L486.5 1282.0 L486.7 1285.4 L486.6 1290.1 L486.7 1293.8 L487.3 1297.1 L488.2 1300.9 L487.7 1305.0 L487.7 1309.2 L488.2 1312.8 L488.3 1317.3 L489.1 1321.1 L488.5 1324.4 L488.8 1327.8 L488.4 1333.1 L488.6 1337.0 L489.7 1340.9 L489.3 1344.0 L490.7 1347.5 L490.1 1351.9 L490.6 1355.5 L491.7 1359.4 L492.5 1364.1 L491.6 1368.4 L492.3 1371.8 L493.1 1375.2 L493.4 1378.9 L493.3 1383.8 L494.6 1387.0 L494.8 1391.3 L494.4 1394.5 L494.8 1397.7 L495.1 1401.6 L495.6 1405.7 L496.6 1410.4 L497.8 1414.9 L498.2 1418.5 L499.0 1422.2 L498.5 1427.2 L499.8 1430.5 L499.7 1434.5 L500.1 1438.7 L500.4 1443.1 L501.3 1446.7 L501.2 1450.3 L501.9 1455.2 L501.5 1458.7 L502.5 1462.6 L502.3 1466.2 L503.3 1469.5 L504.6 1473.9 L505.4 1477.7 L506.2 1481.1 L506.1 1485.3 L507.9 1489.1 L508.1 1491.9 L508.0 1496.0 L509.1 1500.5 L509.0 1505.0 L510.6 1508.9 L510.4 1512.0 L510.5 1516.7 L511.7 1519.9 L512.5 1524.0 L512.4 1527.6 L513.4 1531.4 L513.9 1534.6 L514.5 1538.6 L515.3 1542.3 L515.1 1546.5 L515.7 1550.2 L517.1 1553.5 L517.4 1558.0 L518.0 1561.4 L518.1 1565.0 L518.7 1568.6 L518.8 1572.7 L519.4 1576.5 L520.5 1580.2 L520.5 1584.5 L522.0 1587.9 L522.3 1592.4 L523.2 1596.4 L522.9 1599.6 L524.7 1603.7 L524.5 1608.4 L525.7 1611.6 L526.9 1615.4 L528.5 1619.5 L529.0 1623.5 L530.6 1626.9 L531.2 1631.0 L531.5 1635.6 L532.7 1638.8 L533.8 1643.9 L534.8 1647.3 L535.9 1651.8 L535.9 1654.9 L538.3 1659.7 L538.6 1663.3 L540.8 1667.1 L541.9 1670.9 L542.5 1674.4 L543.6 1679.0 L545.0 1682.9 L546.7 1686.6 L548.8 1690.4 L549.4 1694.4 L550.4 1698.1 L552.1 1702.9 L553.1 1706.7 L555.5 1709.1 L557.1 1713.3 L558.4 1716.6 L560.0 1720.8 L563.0 1724.4 L565.5 1728.1 L567.5 1730.6 L569.8 1734.7 L571.3 1738.9 L573.8 1743.3 L575.9 1747.7 L577.3 1750.3 L579.4 1753.6 L582.0 1756.0 L583.9 1759.9 L586.2 1763.4 L589.3 1765.2 L593.4 1768.2 L595.5 1771.1 L599.2 1773.9 L603.1 1774.6 L606.9 1775.1 L610.5 1775.3 L613.2 1778.2 L616.2 1779.7 L621.1 1781.5 L624.2 1781.9 L627.0 1784.0 L630.1 1785.0 L633.9 1786.0 L635.0 1790.3 L638.4 1794.3 L640.1 1797.2 L642.5 1800.5 L643.7 1805.2 L646.7 1807.8 L648.8 1810.6 L650.5 1813.7 L652.0 1817.0 L653.8 1820.5 L656.5 1824.2 L658.7 1827.8 L660.4 1832.4 L662.3 1836.9 L663.8 1840.2 L666.3 1844.0 L669.0 1848.3 L670.3 1852.0 L671.8 1856.4 L673.8 1859.7 L674.5 1863.3 L676.1 1866.6 L677.5 1870.8 L680.1 1874.2 L680.9 1877.1 L682.0 1880.9 L683.3 1884.2 L684.3 1888.3 L686.7 1891.9 L687.8 1894.5 L688.9 1899.3 L691.4 1902.6 L692.4 1906.5 L693.6 1910.2 L695.7 1914.3 L697.8 1918.0 L699.9 1921.7 L701.7 1926.3 L704.1 1928.8 L705.7 1932.8 L708.0 1935.7 L710.3 1938.2 L712.4 1941.7 L714.7 1945.0 L718.0 1947.0 L720.1 1950.4 L722.0 1953.3 L724.0 1956.8 L724.9 1960.7 L727.4 1963.9 L729.0 1968.2 L731.2 1970.9 L733.6 1974.8 L735.1 1978.6 L737.9 1982.6 L739.9 1985.9 L743.2 1988.2 L747.0 1991.5 L750.5 1995.3 L752.8 1999.3 L755.0 2003.0 L757.8 2004.6 L760.9 2007.6 L763.9 2010.3 L765.4 2012.4 L768.2 2015.6 L772.0 2017.6 L774.4 2020.9 L778.1 2024.2 L781.9 2026.2 L785.3 2028.0 L789.2 2030.4 L792.0 2033.2 L795.5 2034.8 L798.5 2036.0 L800.0 2040.2 L803.6 2042.0 L808.6 2042.5 L811.5 2044.8 L816.1 2045.4 L819.8 2047.3 L824.1 2049.6 L827.6 2050.9 L831.4 2053.2 L835.3 2053.7 L839.0 2055.5 L843.9 2056.6 L847.4 2057.6 L850.7 2057.3 L855.4 2057.5 L858.5 2059.2 L862.6 2058.9 L866.8 2060.5 L870.2 2061.3 L874.6 2061.6 L878.7 2061.7 L883.4 2062.2 L887.1 2063.7 L890.5 2064.4 L893.9 2063.7 L898.5 2063.8 L902.8 2064.7 L906.8 2064.5 L909.6 2065.6 L913.8 2065.7 L917.6 2066.6 L922.1 2066.8 L925.4 2067.8 L930.4 2067.7 L933.5 2068.5 L938.1 2068.9 L942.0 2069.1 L945.3 2069.4 L949.0 2068.4 L953.1 2069.5 L957.6 2069.9 L962.2 2070.0 L965.6 2069.3 L970.0 2069.9 L972.9 2069.7 L976.6 2069.1 L981.4 2070.2 L985.6 2070.3 L988.6 2070.4 L993.7 2070.3 L996.9 2069.7 L1000.3 2070.1 L1005.5 2069.3 L1009.2 2070.3 L1012.5 2070.2 L1016.2 2069.4 L1020.7 2070.1 L1024.6 2069.0 L1029.1 2069.7 L1032.8 2069.2 L1036.1 2069.0 L1039.8 2069.5 L1044.1 2069.8 L1048.6 2069.4 L1052.7 2069.8 L1055.8 2069.1 L1060.6 2069.7 L1063.3 2069.6 L1067.7 2069.2 L1072.2 2068.8 L1075.4 2069.2 L1080.2 2068.5 L1084.1 2069.3 L1086.7 2069.0 L1090.9 2068.9 L1094.3 2068.1 L1097.8 2067.8 L1099.9 2067.9 L1103.4 2067.4 L1107.7 2067.3 L1111.9 2067.5 L1115.4 2066.9 L1119.5 2066.2 L1123.1 2066.9 L1128.2 2066.5 L1131.1 2065.2 L1134.9 2065.1 L1139.3 2064.4 L1143.2 2065.1 L1147.7 2064.1 L1150.5 2064.4 L1155.0 2063.2 L1158.6 2062.6 L1162.7 2062.1 L1166.6 2061.9 L1171.3 2061.1 L1174.7 2060.8 L1179.3 2060.7 L1183.4 2059.4 L1187.1 2059.0 L1190.7 2058.8 L1194.6 2058.0 L1197.9 2056.8 L1203.0 2057.3 L1206.3 2055.5 L1210.8 2055.4 L1214.2 2054.8 L1217.7 2053.5 L1222.6 2053.5 L1226.7 2052.4 L1230.6 2052.3 L1233.9 2051.6 L1237.4 2049.7 L1242.2 2049.1 L1245.8 2049.2 L1249.9 2047.7 L1254.0 2046.8 L1257.6 2047.2 L1261.6 2045.7 L1266.1 2045.6 L1269.8 2045.1 L1273.9 2043.9 L1277.7 2043.1 L1280.9 2042.0 L1284.8 2041.0 L1289.2 2040.8 L1293.6 2039.4 L1297.4 2038.8 L1300.6 2038.1 L1305.5 2037.7 L1308.7 2036.2 L1312.1 2035.6 L1317.3 2034.9 L1320.8 2034.6 L1323.9 2033.0 L1328.4 2032.0 L1332.2 2031.8 L1335.8 2030.9 L1340.0 2029.9 L1343.8 2029.1 L1348.0 2028.2 L1352.8 2026.9 L1355.4 2025.6 L1360.6 2025.1 L1364.3 2023.8 L1368.5 2023.5 L1372.0 2022.1 L1375.2 2020.3 L1379.3 2020.3 L1384.1 2019.4 L1388.3 2017.8 L1391.1 2017.6 L1395.2 2017.6 L1400.6 2017.5 L1401.0 2016.8 L1405.6 2016.0 L1408.9 2014.7 L1413.3 2014.8 L1416.8 2013.5 L1419.6 2012.3 L1423.7 2011.5 L1427.4 2011.3 L1431.8 2009.8 L1436.0 2009.2 L1440.0 2009.5 L1443.5 2008.7 L1447.5 2009.1 L1450.8 2007.6 L1455.6 2007.3 L1458.5 2007.2 L1462.6 2006.4 L1466.7 2005.1 L1471.3 2004.6 L1475.1 2003.0 L1479.2 2002.7 L1483.4 2001.1 L1486.4 2000.7 L1490.6 2001.1 L1494.7 2000.3 L1499.1 2000.3 L1503.1 1999.6 L1506.6 1998.8 L1510.3 1999.2 L1513.9 1998.7 L1517.7 1998.0 L1522.3 1997.6 L1525.6 1996.7 L1529.8 1996.9 L1533.8 1995.8 L1537.6 1995.5 L1541.3 1995.5 L1545.7 1994.7 L1549.0 1995.2 L1553.0 1993.8 L1557.3 1994.4 L1562.1 1994.0 L1565.0 1993.8 L1568.7 1992.4 L1572.8 1992.7 L1577.4 1992.6 L1581.8 1992.6 L1585.5 1991.6 L1589.7 1992.4 L1593.5 1991.1 L1597.3 1991.5 L1600.9 1990.9 L1605.2 1991.5 L1609.1 1990.7 L1613.0 1990.3 L1616.9 1990.1 L1619.9 1990.0 L1624.7 1991.2 L1628.4 1990.6 L1632.5 1990.7 L1637.0 1990.6 L1640.0 1989.4 L1644.8 1989.6 L1648.5 1990.3 L1651.6 1989.3 L1655.9 1990.1 L1660.5 1990.2 L1663.6 1988.9 L1668.4 1987.7 L1671.9 1988.1 L1676.2 1988.9 L1679.7 1988.7 L1683.4 1988.4 L1687.1 1987.8 L1691.0 1988.2 L1694.5 1988.4 L1698.2 1987.8 L1700.2 1988.6 L1703.2 1988.1 L1707.6 1987.5 L1710.8 1987.1 L1715.5 1987.7 L1719.6 1987.3 L1723.5 1987.6 L1726.5 1987.6 L1731.6 1987.8 L1734.8 1987.9 L1739.0 1987.7 L1743.5 1988.2 L1746.8 1988.3 L1750.2 1989.3 L1754.8 1992.0 L1758.0 1989.0 L1761.8 1985.9 L1766.0 1985.3 L1770.0 1985.9 L1774.5 1985.3 L1776.6 1987.1 L1779.4 1989.4 L1783.2 1992.3 L1785.9 1989.7 L1789.8 1987.7 L1794.4 1990.0 L1797.0 1990.8 L1802.5 1988.0 L1806.4 1989.4 L1809.7 1990.1 L1814.7 1989.7 L1817.7 1990.4 L1821.6 1990.4 L1825.5 1989.9 L1829.8 1990.8 L1834.1 1990.6 L1838.0 1990.4 L1842.5 1990.7 L1845.9 1991.3 L1849.3 1993.4 L1854.5 1993.0 L1857.5 1992.7 L1861.9 1991.8 L1865.7 1991.9 L1870.3 1993.3 L1873.9 1994.4 L1877.7 1994.7 L1881.2 1995.7 L1884.9 1996.1 L1889.5 1997.0 L1892.9 1994.7 L1896.1 1992.1 L1900.3 1992.6 L1905.3 1995.2 L1909.1 1995.7 L1912.6 1995.3 L1916.8 1996.2 L1920.3 1996.3 L1924.4 1994.7 L1926.2 1993.6 L1931.0 1995.0 L1935.4 1996.3 L1939.3 1998.0 L1943.2 1999.4 L1944.9 1997.5 L1947.9 1995.5 L1952.2 1995.6 L1955.4 1997.1 L1959.4 1997.8 L1962.8 1999.3 L1966.4 2000.4 L1970.5 1998.0 L1974.8 1996.6 L1979.3 1997.2 L1983.5 2000.0 L1987.4 1999.5 L1990.6 2000.5 L1994.7 2000.8 L1998.4 2002.1 L1999.3 2002.1 L2004.0 2002.7 L2008.4 2002.5 L2012.3 2002.6 L2016.2 2003.3 L2018.8 2003.7 L2023.8 2003.2 L2027.7 2003.8 L2031.2 2005.3 L2036.5 2005.3 L2040.4 2005.9 L2044.8 2007.3 L2048.7 2005.3 L2053.1 2005.4 L2058.4 2006.8 L2063.3 2008.4 L2067.1 2007.3 L2070.3 2008.0 L2074.3 2008.0 L2078.5 2009.1 L2083.4 2008.9 L2086.5 2008.7 L2090.0 2009.0 L2094.0 2009.3 L2098.5 2009.2 L2101.8 2010.0 L2105.6 2009.6 L2108.4 2012.3 L2112.4 2013.5 L2116.3 2011.4 L2120.4 2007.7 L2122.6 2009.1 L2125.8 2010.6 L2129.8 2012.8 L2132.4 2012.9 L2136.5 2015.0 L2140.5 2015.7 L2144.6 2013.4 L2149.8 2011.8 L2152.7 2013.3 L2155.9 2014.4 L2160.2 2014.5 L2163.9 2015.0 L2168.7 2015.3 L2173.7 2015.0 L2177.4 2016.0 L2179.7 2016.9 L2183.9 2017.4 L2188.0 2017.2 L2191.2 2016.0 L2194.3 2016.2 L2198.7 2017.1 L2200.3 2016.6 L2204.6 2017.9 L2208.7 2018.1 L2213.1 2019.1 L2216.9 2018.8 L2221.1 2019.7 L2225.0 2020.1 L2228.2 2020.3 L2231.9 2020.7 L2235.3 2021.1 L2240.1 2022.1 L2243.5 2022.5 L2246.8 2021.7 L2251.1 2022.4 L2254.6 2022.9 L2258.9 2023.5 L2262.0 2023.3 L2266.2 2023.6 L2269.9 2023.5 L2274.0 2023.1 L2278.1 2023.5 L2281.5 2024.5 L2286.1 2024.3 L2289.7 2024.1 L2294.2 2024.4 L2299.0 2024.8 L2302.8 2025.3 L2307.4 2026.1 L2311.5 2025.4 L2315.0 2026.1 L2319.6 2026.9 L2323.6 2027.4 L2328.0 2027.3 L2331.9 2028.5 L2336.6 2028.7 L2341.0 2028.5 L2344.5 2029.5 L2348.0 2030.7 L2352.0 2030.7 L2356.7 2030.5 L2361.0 2030.6 L2365.7 2031.7 L2370.9 2032.5 L2373.8 2032.2 L2377.3 2030.8 L2381.8 2031.3 L2383.1 2029.6" stroke="#008000" stroke-width="12.3"/>
<path d="M321.5 1809.0 L321.7 1813.2 L322.5 1817.3 L323.5 1820.7 L323.3 1825.8 L324.2 1829.1 L325.8 1833.5 L326.2 1837.6 L326.6 1841.2 L327.2 1846.3 L327.6 1850.2 L328.4 1853.4 L329.4 1850.6 L329.6 1846.3 L331.2 1843.5 L331.8 1840.5 L333.8 1837.1 L335.4 1833.4 L337.0 1829.3 L339.1 1823.7 L339.1 1820.1 L341.3 1816.6 L341.8 1812.6 L342.1 1809.1 L342.5 1805.7 L343.3 1802.5 L344.0 1798.9 L344.8 1795.3 L345.0 1790.5 L346.0 1787.5 L346.8 1782.7 L347.3 1778.0 L348.2 1774.3 L348.0 1769.7 L349.4 1767.1 L348.9 1763.0 L349.9 1758.2 L350.3 1755.2 L351.6 1750.3 L351.6 1746.4 L352.2 1743.0 L352.9 1740.0 L352.8 1736.2 L352.9 1731.0 L353.7 1727.1 L353.6 1723.7 L354.6 1719.5 L354.2 1716.6 L354.9 1712.9 L356.1 1708.2 L355.9 1704.5 L356.5 1700.8 L356.8 1697.0 L358.0 1692.9 L357.9 1689.3 L358.3 1684.9 L359.9 1681.3 L360.0 1676.7 L360.4 1673.9 L360.5 1670.4 L362.0 1666.0 L362.7 1663.0 L364.5 1659.5 L366.3 1656.8 L369.3 1654.9 L374.7 1657.6 L375.7 1659.9 L377.6 1662.7 L377.9 1666.2 L378.5 1670.1 L379.0 1673.3 L380.4 1677.0 L380.9 1682.2 L381.3 1685.7 L382.7 1689.9 L382.4 1693.9 L383.7 1697.1 L383.8 1701.1 L385.1 1705.0 L385.7 1708.3 L385.6 1712.6 L386.9 1716.0 L386.6 1719.4 L387.6 1723.4 L388.6 1728.2 L388.4 1731.3 L389.8 1735.7 L390.6 1738.9 L390.4 1742.5 L392.1 1746.1 L392.2 1750.0 L393.0 1753.6 L394.5 1756.9 L393.8 1762.2 L395.5 1766.5 L395.5 1770.6 L396.7 1773.8 L396.9 1778.5 L397.2 1781.9 L397.2 1785.6 L397.6 1789.0 L398.5 1793.2 L399.3 1796.7 L399.8 1801.5 L400.3 1805.7 L400.7 1809.1 L399.9 1813.2 L400.7 1816.2 L402.0 1820.2 L402.3 1824.4 L403.2 1827.2 L403.3 1831.5 L404.3 1835.2 L404.9 1838.3 L405.9 1843.0 L406.2 1846.8 L408.0 1850.6 L408.6 1853.4 L409.1 1858.4 L409.4 1861.6 L410.9 1865.9 L412.3 1869.8 L413.9 1873.1 L414.1 1877.2 L415.3 1881.1 L417.7 1886.2 L417.6 1889.7 L419.1 1893.4 L420.4 1897.9 L421.9 1901.4 L422.6 1905.4 L423.7 1909.7 L425.7 1913.4 L426.1 1917.3 L427.8 1922.1 L429.7 1926.0 L431.0 1930.5 L431.8 1934.3 L433.1 1938.1 L434.1 1941.3 L435.3 1943.9 L438.3 1946.9 L440.4 1948.8 L443.7 1951.7 L447.2 1953.1 L449.9 1955.8 L452.5 1955.6 L455.8 1956.3 L460.0 1956.6 L464.1 1959.5 L467.8 1962.5 L468.7 1966.0 L470.3 1968.9 L473.1 1972.2 L473.8 1975.7 L477.7 1979.5 L479.3 1984.1 L482.1 1987.1 L485.5 1990.1 L488.5 1992.8 L490.9 1995.1 L493.5 1999.3 L496.1 2002.2 L498.7 2007.0 L500.4 2009.7 L503.7 2013.1 L505.9 2015.0 L508.5 2018.3 L511.9 2020.8 L513.9 2023.3 L516.5 2025.8 L518.8 2028.4 L522.7 2030.8 L525.8 2031.7 L529.3 2033.7 L532.7 2034.6 L536.0 2036.0 L540.1 2036.5 L542.4 2038.5 L547.1 2039.6 L549.9 2041.3 L553.1 2042.1 L556.6 2043.4 L560.2 2043.8 L564.3 2045.7 L567.2 2046.1 L570.9 2047.0 L574.6 2046.9 L577.6 2047.5 L581.5 2048.9 L584.5 2049.8 L588.3 2050.8 L591.5 2051.5 L595.5 2051.3 L599.0 2052.1 L600.5 2052.0 L604.2 2052.4 L608.9 2052.2 L612.9 2053.2 L616.8 2052.4 L620.6 2053.2 L625.5 2054.3 L629.9 2053.9 L633.2 2054.6 L637.4 2055.9 L642.5 2056.9 L645.9 2057.5 L650.2 2057.6 L654.9 2057.8 L658.3 2059.5 L662.7 2059.6 L667.3 2060.7 L670.7 2061.0 L675.5 2062.0 L679.4 2062.8 L684.7 2063.3 L688.0 2063.8 L691.6 2065.4 L695.3 2066.5 L700.4 2066.2 L705.7 2068.2 L708.6 2067.0 L711.1 2065.2 L715.2 2065.6 L718.4 2065.8 L723.0 2065.9 L726.1 2065.4 L730.2 2066.3 L734.8 2067.4 L738.7 2067.2 L743.1 2068.4 L746.6 2069.3 L751.5 2068.4 L756.1 2068.6 L759.4 2069.6 L764.0 2069.5 L768.3 2069.5 L772.0 2069.4 L775.9 2070.4 L781.0 2070.4 L785.2 2070.4 L788.7 2070.7 L794.3 2070.3 L798.5 2070.5 L800.4 2071.0 L803.7 2071.2 L807.9 2071.9 L811.6 2072.1 L815.2 2071.5 L819.1 2071.4 L824.0 2072.4 L827.1 2071.8 L831.4 2072.8 L835.9 2072.7 L839.5 2071.9 L843.2 2071.9 L847.3 2072.4 L850.8 2071.9 L855.5 2071.5 L859.5 2072.7 L863.7 2071.9 L867.0 2072.2 L871.1 2072.8 L875.1 2071.9 L879.3 2072.2 L882.9 2072.5 L886.0 2072.6 L890.8 2072.2 L894.6 2072.2 L898.0 2072.3 L901.8 2072.3 L906.6 2072.2 L910.4 2073.0 L914.8 2071.9 L918.6 2072.6 L921.5 2072.2 L925.7 2071.8 L930.0 2073.1 L933.7 2073.0 L938.1 2072.0 L942.3 2072.7 L946.3 2072.9 L950.0 2072.4 L954.1 2073.3 L958.1 2072.7 L961.9 2072.6 L964.9 2071.9 L968.8 2072.1 L972.8 2072.4 L977.5 2072.4 L981.1 2072.5 L984.9 2072.1 L989.4 2072.0 L992.6 2072.6 L997.3 2071.8 L1000.7 2072.0 L1005.0 2071.5 L1008.1 2071.4 L1013.1 2071.3 L1016.6 2071.3 L1020.2 2071.2 L1024.4 2071.2 L1027.8 2071.1 L1031.9 2071.6 L1035.7 2071.0 L1040.2 2071.5 L1044.5 2071.0 L1048.0 2071.5 L1051.4 2072.3 L1055.6 2071.0 L1059.9 2071.0 L1064.1 2071.1 L1067.3 2070.6 L1072.1 2070.8 L1076.1 2071.0 L1080.3 2070.7 L1083.3 2070.5 L1087.6 2070.8 L1090.5 2069.7 L1094.5 2070.7 L1097.9 2069.1 L1099.3 2069.0 L1103.5 2068.7 L1107.3 2069.4 L1112.4 2068.5 L1116.4 2068.7 L1120.1 2069.1 L1124.3 2067.6 L1127.3 2068.2 L1132.1 2067.2 L1135.2 2068.1 L1138.9 2067.2 L1143.1 2067.4 L1147.9 2066.5 L1151.5 2066.8 L1155.6 2066.1 L1159.7 2065.3 L1162.9 2064.7 L1167.4 2064.6 L1170.6 2063.7 L1175.2 2063.8 L1179.1 2063.1 L1182.7 2062.3 L1187.0 2061.6 L1190.6 2062.2 L1194.8 2060.8 L1198.1 2061.5 L1202.6 2061.1 L1206.9 2060.1 L1210.8 2060.1 L1214.0 2059.2 L1217.6 2058.9 L1222.7 2058.1 L1226.1 2057.7 L1229.4 2058.1 L1233.6 2056.8 L1237.4 2057.3 L1241.9 2056.0 L1245.4 2056.7 L1249.3 2055.6 L1253.5 2055.3 L1257.7 2054.7 L1261.6 2053.3 L1265.0 2052.5 L1269.8 2052.0 L1272.7 2052.6 L1276.8 2051.9 L1280.6 2050.7 L1284.7 2050.6 L1289.2 2049.8 L1293.4 2049.6 L1296.7 2048.7 L1300.8 2047.5 L1305.3 2047.6 L1309.2 2046.5 L1312.8 2046.4 L1317.0 2045.3 L1320.4 2045.4 L1323.9 2044.9 L1328.8 2044.2 L1332.6 2044.0 L1335.9 2043.1 L1341.0 2042.4 L1344.1 2041.4 L1347.8 2040.8 L1352.7 2041.0 L1356.6 2040.7 L1360.1 2039.9 L1364.0 2038.6 L1368.5 2038.6 L1372.4 2037.3 L1376.1 2036.6 L1380.4 2036.6 L1383.3 2036.0 L1387.3 2034.4 L1392.1 2034.3 L1395.9 2034.4 L1399.4 2034.2 L1401.3 2033.5 L1405.1 2033.2 L1409.4 2031.8 L1412.2 2031.1 L1416.4 2030.0 L1419.8 2030.2 L1424.3 2029.8 L1428.4 2028.9 L1431.3 2027.2 L1435.2 2027.1 L1439.4 2026.7 L1443.1 2026.6 L1447.0 2025.6 L1451.7 2025.6 L1454.9 2024.3 L1459.5 2023.5 L1462.5 2023.7 L1467.0 2022.3 L1470.3 2021.5 L1475.2 2020.9 L1479.5 2020.5 L1483.4 2018.7 L1486.2 2018.0 L1490.5 2017.8 L1493.9 2017.4 L1497.9 2016.5 L1502.1 2016.5 L1506.2 2015.0 L1509.7 2014.6 L1514.4 2014.3 L1518.7 2013.8 L1521.8 2012.2 L1526.4 2012.5 L1530.0 2011.9 L1534.0 2010.5 L1537.4 2009.5 L1542.0 2010.1 L1546.3 2008.9 L1549.9 2009.0 L1554.1 2008.1 L1557.4 2007.4 L1561.0 2006.4 L1565.7 2007.0 L1569.4 2005.7 L1573.1 2005.2 L1577.7 2004.8 L1581.8 2004.0 L1584.9 2004.1 L1589.0 2004.2 L1593.5 2003.9 L1597.1 2002.2 L1601.0 2002.6 L1604.8 2001.8 L1609.1 2002.2 L1612.2 2001.4 L1616.5 2000.8 L1621.1 2000.9 L1624.7 1999.4 L1629.1 1998.9 L1632.2 1999.4 L1636.1 1998.2 L1640.9 1998.9 L1644.0 1997.9 L1647.9 1997.3 L1651.8 1998.2 L1655.5 1996.9 L1659.6 1996.5 L1664.0 1997.2 L1668.3 1996.8 L1672.6 1995.7 L1676.1 1996.9 L1680.1 1995.8 L1684.9 1995.6 L1689.3 1995.2 L1693.1 1996.3 L1697.3 1996.1 L1699.5 1996.5 L1704.2 1995.9 L1707.4 1995.0 L1712.2 1995.0 L1715.3 1995.9 L1720.2 1994.7 L1724.3 1995.3 L1727.4 1994.6 L1731.4 1995.7 L1735.1 1994.7 L1738.9 1994.9 L1743.1 1996.2 L1746.7 1995.4 L1752.6 1997.7 L1757.4 1997.8 L1760.2 1998.3 L1764.1 1997.4 L1767.5 1995.9 L1771.1 1995.8 L1775.2 1994.3 L1778.7 1996.2 L1782.6 1998.2 L1787.5 1996.2 L1791.5 1995.6 L1795.7 1994.9 L1799.6 1996.1 L1802.3 1995.6 L1806.1 1995.6 L1811.0 1996.5 L1814.8 1996.1 L1817.5 1997.2 L1822.5 1997.4 L1826.3 1996.8 L1830.4 1996.2 L1834.0 1996.7 L1837.4 1997.0 L1841.6 1996.9 L1845.6 1997.7 L1849.5 1999.1 L1854.3 1999.9 L1858.1 2000.1 L1861.2 2000.6 L1865.1 1999.8 L1869.4 2001.0 L1873.1 2001.2 L1877.0 2002.4 L1881.1 2002.5 L1885.2 2003.8 L1889.8 2004.0 L1892.1 2002.7 L1894.8 2001.1 L1899.0 2000.1 L1901.5 2000.6 L1905.5 2001.2 L1909.0 2000.5 L1912.8 2001.9 L1917.3 2002.6 L1922.5 2002.7 L1925.0 2002.3 L1928.3 2001.4 L1932.2 2003.3 L1935.7 2003.3 L1938.7 2004.8 L1942.8 2005.5 L1945.2 2004.6 L1948.6 2003.1 L1952.2 2003.2 L1955.8 2004.0 L1959.8 2005.2 L1963.6 2005.7 L1966.9 2006.3 L1970.8 2007.8 L1973.7 2006.3 L1977.0 2003.2 L1981.3 2004.3 L1983.8 2004.0 L1987.7 2004.5 L1992.0 2005.3 L1994.3 2005.7 L1997.8 2005.9 L2000.2 2006.6 L2003.8 2006.2 L2008.5 2007.5 L2011.2 2007.5 L2016.1 2008.7 L2018.8 2006.7 L2023.1 2006.6 L2027.9 2008.0 L2031.3 2008.3 L2036.2 2009.2 L2040.2 2008.8 L2044.6 2009.4 L2048.2 2009.1 L2052.6 2007.9 L2055.4 2008.2 L2059.5 2009.9 L2063.1 2009.9 L2067.6 2010.7 L2070.9 2010.4 L2074.6 2011.7 L2078.3 2011.5 L2082.9 2011.3 L2087.0 2012.2 L2091.1 2012.0 L2094.1 2011.1 L2097.9 2012.0 L2101.1 2013.3 L2104.6 2013.7 L2109.9 2014.0 L2114.0 2015.6 L2116.7 2013.0 L2120.2 2011.1 L2124.1 2012.7 L2128.3 2012.8 L2131.2 2014.3 L2134.4 2014.9 L2138.0 2016.3 L2141.6 2016.3 L2145.1 2015.9 L2149.3 2014.8 L2153.6 2015.0 L2157.8 2015.8 L2161.0 2016.2 L2165.3 2016.0 L2169.5 2016.3 L2173.2 2015.7 L2177.2 2017.6 L2180.3 2017.9 L2183.5 2019.2 L2187.8 2017.5 L2191.6 2017.9 L2194.6 2018.3 L2198.5 2017.5 L2200.3 2018.4 L2204.4 2018.8 L2207.5 2018.8 L2212.6 2018.8 L2216.2 2019.4 L2220.1 2018.9 L2224.3 2019.5 L2227.6 2018.8 L2232.2 2019.8 L2235.4 2020.6 L2240.1 2020.5 L2244.1 2021.2 L2247.6 2020.8 L2250.5 2021.5 L2255.5 2021.2 L2259.1 2021.7 L2262.7 2022.0 L2267.3 2021.8 L2270.9 2022.2 L2275.4 2022.6 L2279.4 2022.3 L2283.6 2022.5 L2288.3 2022.3 L2291.8 2023.0 L2296.2 2023.3 L2300.4 2022.9 L2305.1 2024.3 L2309.8 2024.0 L2313.3 2023.6 L2317.3 2024.1 L2322.5 2024.0 L2326.7 2024.8 L2329.5 2025.0 L2333.7 2025.4 L2336.7 2026.4 L2340.1 2026.5 L2345.1 2027.8 L2348.7 2028.4 L2351.7 2028.6 L2356.6 2027.8 L2360.1 2028.7 L2363.9 2028.3 L2367.6 2028.0 L2372.3 2027.8 L2377.0 2028.3 L2382.1 2027.8 L2383.2 2027.0" stroke="#0000FF" stroke-width="12.3"/>
<path d="M322.5 1909.0 L324.1 1911.9 L326.4 1915.5 L327.9 1919.4 L331.1 1923.4 L332.7 1918.9 L334.2 1915.4 L335.5 1911.4 L336.7 1908.8 L338.6 1904.9 L339.6 1900.3 L340.0 1897.1 L341.6 1893.7 L342.9 1888.9 L343.5 1885.9 L344.5 1881.3 L345.4 1877.2 L347.1 1874.3 L347.6 1869.5 L349.2 1865.9 L350.2 1862.4 L350.7 1857.8 L352.2 1853.6 L352.9 1849.3 L355.2 1844.7 L355.4 1841.4 L357.1 1837.0 L358.5 1832.5 L360.4 1828.1 L360.7 1823.8 L362.2 1819.7 L363.5 1816.8 L365.2 1813.1 L368.8 1810.8 L370.4 1812.6 L373.4 1817.2 L374.6 1820.8 L375.7 1824.9 L376.7 1829.3 L379.1 1833.6 L380.0 1837.6 L380.0 1840.9 L382.3 1845.7 L382.5 1850.2 L383.7 1854.2 L384.2 1857.5 L385.2 1861.4 L385.9 1866.5 L386.7 1869.1 L387.1 1873.3 L388.9 1877.6 L389.0 1881.2 L390.8 1885.6 L390.4 1889.1 L390.9 1893.2 L392.4 1897.2 L392.3 1901.6 L393.2 1906.3 L393.8 1909.7 L395.4 1913.5 L396.4 1917.6 L396.0 1921.4 L396.5 1925.4 L397.4 1930.1 L399.0 1933.5 L398.5 1937.2 L399.5 1941.1 L400.3 1946.0 L400.9 1948.8 L402.7 1953.5 L403.5 1957.2 L404.1 1961.6 L404.7 1965.7 L405.0 1968.7 L405.8 1973.8 L407.9 1977.9 L408.2 1981.5 L410.0 1985.4 L411.2 1989.3 L412.2 1993.5 L412.8 1997.8 L414.8 2000.6 L416.0 2005.8 L416.6 2008.5 L418.1 2012.6 L419.3 2017.3 L419.1 2020.6 L421.0 2025.1 L422.7 2029.1 L423.5 2031.3 L426.0 2034.8 L427.5 2038.5 L429.3 2043.1 L431.3 2046.5 L433.1 2049.7 L436.1 2053.1 L439.7 2057.0 L442.4 2059.9 L445.2 2061.3 L449.4 2064.1 L453.3 2065.2 L455.8 2065.8 L460.2 2066.9 L462.6 2069.2 L467.2 2070.0 L470.3 2072.2 L475.5 2072.2 L479.6 2072.6 L484.2 2073.5 L486.5 2075.8 L491.0 2077.1 L493.9 2078.7 L497.9 2078.6 L501.5 2079.9 L504.2 2081.3 L507.9 2081.7 L511.0 2082.3 L514.5 2082.1 L518.5 2083.2 L522.1 2084.8 L527.6 2084.3 L531.0 2084.9 L535.1 2085.1 L539.1 2084.0 L542.6 2085.0 L547.0 2084.9 L552.1 2084.7 L555.8 2084.7 L559.5 2085.1 L564.0 2085.1 L567.9 2085.2 L572.8 2084.9 L576.5 2084.4 L581.2 2084.9 L585.2 2084.7 L587.9 2084.8 L592.4 2084.9 L596.1 2085.2 L599.1 2085.3 L600.2 2085.1 L604.1 2086.0 L608.0 2085.3 L612.4 2084.6 L616.1 2083.9 L621.6 2084.7 L625.6 2084.5 L630.0 2083.3 L633.7 2083.6 L637.9 2084.0 L642.4 2083.8 L645.7 2083.3 L650.7 2083.4 L654.8 2083.5 L658.5 2083.5 L662.9 2083.0 L667.8 2083.0 L671.2 2082.1 L675.4 2082.4 L680.5 2082.6 L683.9 2081.7 L688.4 2081.2 L691.8 2080.5 L695.4 2080.9 L700.1 2080.6 L703.5 2080.6 L707.7 2079.0 L710.7 2079.7 L715.7 2079.3 L718.8 2078.2 L721.8 2077.9 L725.7 2078.5 L730.8 2078.3 L734.0 2077.5 L738.4 2078.5 L742.4 2078.3 L747.3 2077.9 L751.9 2077.4 L755.5 2077.2 L759.1 2077.0 L763.6 2077.1 L767.5 2078.2 L772.0 2077.9 L776.8 2077.6 L780.9 2077.8 L785.4 2077.3 L789.2 2077.2 L794.1 2077.1 L798.5 2076.6 L800.5 2077.0 L803.3 2076.4 L808.4 2076.4 L811.7 2076.9 L816.3 2076.2 L819.5 2076.2 L823.0 2076.7 L826.9 2076.7 L831.0 2075.5 L835.9 2076.3 L839.0 2075.8 L843.3 2075.9 L846.8 2075.9 L851.9 2075.7 L855.7 2076.1 L858.9 2075.9 L863.5 2075.6 L866.4 2075.7 L871.5 2075.2 L875.0 2076.1 L878.9 2074.9 L882.9 2075.2 L887.2 2075.8 L890.3 2076.1 L894.7 2075.4 L898.9 2076.3 L902.8 2076.4 L906.3 2076.3 L910.1 2076.2 L914.5 2076.2 L917.1 2076.8 L921.5 2076.7 L925.5 2076.5 L928.8 2076.4 L933.6 2077.4 L937.6 2076.1 L942.0 2076.8 L945.4 2075.5 L949.9 2076.2 L953.7 2075.1 L957.9 2074.9 L961.4 2075.3 L965.0 2076.5 L969.4 2076.6 L972.6 2076.1 L976.8 2075.8 L980.4 2077.3 L984.7 2077.3 L988.1 2076.9 L992.8 2076.8 L996.3 2075.9 L999.8 2076.7 L1005.1 2075.6 L1008.9 2075.7 L1012.7 2076.1 L1016.3 2075.6 L1020.2 2075.3 L1023.9 2075.0 L1028.2 2075.9 L1031.9 2075.7 L1035.8 2076.1 L1039.8 2074.9 L1043.8 2076.1 L1048.4 2076.1 L1052.1 2075.0 L1055.7 2075.6 L1060.5 2075.3 L1063.3 2076.4 L1067.0 2076.7 L1071.1 2076.2 L1075.4 2076.8 L1078.5 2076.8 L1082.5 2076.7 L1086.1 2076.9 L1090.0 2075.6 L1093.5 2075.3 L1097.6 2075.8 L1100.1 2074.6 L1104.6 2074.3 L1107.5 2075.3 L1112.4 2074.9 L1116.4 2073.9 L1120.3 2074.7 L1123.9 2074.9 L1127.0 2073.9 L1131.0 2074.2 L1135.5 2074.3 L1139.2 2074.5 L1143.8 2074.4 L1146.6 2073.5 L1150.8 2073.5 L1155.3 2073.3 L1159.3 2073.4 L1162.8 2073.8 L1167.6 2072.9 L1170.7 2073.9 L1174.4 2072.4 L1178.3 2073.4 L1183.0 2073.4 L1186.7 2072.0 L1190.3 2072.9 L1194.4 2071.9 L1198.3 2072.2 L1202.2 2072.0 L1205.8 2071.2 L1210.7 2072.0 L1214.1 2070.9 L1217.9 2071.3 L1222.7 2071.0 L1226.7 2070.9 L1229.5 2070.8 L1234.1 2070.6 L1238.2 2069.6 L1241.7 2070.5 L1245.2 2069.3 L1249.2 2069.4 L1253.5 2069.3 L1257.8 2069.0 L1261.3 2069.5 L1265.5 2069.8 L1270.0 2068.6 L1273.1 2068.9 L1277.3 2068.5 L1281.7 2068.1 L1285.1 2067.8 L1289.6 2068.3 L1293.7 2067.4 L1297.2 2067.7 L1300.3 2067.7 L1305.4 2066.4 L1309.4 2067.1 L1312.9 2066.4 L1316.3 2065.4 L1320.6 2066.3 L1324.1 2065.4 L1328.2 2065.4 L1333.0 2065.4 L1336.0 2064.4 L1339.6 2064.2 L1344.7 2064.2 L1347.6 2063.3 L1351.5 2062.9 L1356.6 2062.3 L1360.5 2062.8 L1364.4 2061.4 L1368.4 2062.0 L1372.5 2060.3 L1375.0 2060.3 L1379.7 2060.1 L1383.0 2060.0 L1387.9 2059.6 L1391.8 2059.2 L1396.2 2058.1 L1399.9 2057.9 L1401.0 2058.4 L1405.1 2057.4 L1408.7 2057.3 L1412.3 2057.0 L1415.9 2057.0 L1419.8 2056.3 L1424.1 2055.4 L1427.5 2054.9 L1431.9 2054.8 L1435.5 2054.0 L1439.6 2053.5 L1443.3 2053.8 L1447.3 2053.3 L1451.3 2052.3 L1455.8 2052.6 L1459.4 2052.6 L1463.0 2051.3 L1466.7 2050.9 L1470.6 2050.5 L1474.4 2050.4 L1478.5 2049.8 L1482.9 2049.3 L1487.2 2049.6 L1490.4 2049.3 L1494.1 2047.9 L1499.2 2047.4 L1501.7 2048.2 L1505.7 2047.5 L1510.4 2046.5 L1513.9 2047.1 L1518.0 2045.7 L1522.0 2046.0 L1525.8 2044.7 L1530.4 2044.4 L1533.3 2044.0 L1538.6 2044.3 L1542.1 2044.1 L1546.4 2043.5 L1549.5 2043.7 L1552.9 2043.0 L1557.9 2043.0 L1561.5 2043.2 L1565.3 2042.6 L1569.2 2041.4 L1573.2 2041.2 L1576.6 2041.0 L1580.7 2040.9 L1585.5 2041.0 L1589.6 2040.1 L1593.3 2040.5 L1596.8 2040.2 L1600.3 2039.9 L1605.4 2039.6 L1609.2 2039.0 L1612.6 2038.8 L1617.2 2038.3 L1620.8 2038.5 L1624.2 2037.5 L1627.8 2038.0 L1632.6 2037.4 L1636.0 2036.5 L1640.3 2037.3 L1644.0 2036.4 L1648.0 2036.8 L1651.6 2036.6 L1655.4 2036.2 L1660.3 2035.7 L1664.3 2035.2 L1667.4 2035.2 L1671.8 2035.6 L1676.5 2035.4 L1681.4 2035.5 L1685.4 2035.6 L1689.8 2035.2 L1693.3 2034.8 L1698.2 2035.1 L1700.6 2034.6 L1704.2 2033.9 L1708.0 2033.8 L1712.0 2033.8 L1715.1 2034.9 L1720.2 2034.0 L1723.0 2034.7 L1728.0 2033.8 L1732.0 2034.7 L1735.6 2033.9 L1738.8 2033.6 L1743.2 2034.6 L1747.5 2033.9 L1752.4 2034.7 L1756.9 2035.8 L1759.2 2034.5 L1763.4 2033.2 L1766.3 2033.4 L1770.7 2033.4 L1775.0 2033.4 L1779.8 2034.3 L1783.7 2035.3 L1786.9 2034.7 L1791.6 2034.5 L1795.1 2034.7 L1798.5 2033.3 L1802.1 2033.1 L1806.2 2032.7 L1810.8 2033.7 L1814.8 2034.1 L1818.5 2034.2 L1822.4 2033.8 L1826.5 2034.7 L1829.4 2033.7 L1833.5 2034.3 L1838.4 2034.6 L1842.3 2034.5 L1845.8 2034.5 L1849.9 2034.7 L1852.9 2035.0 L1857.7 2035.8 L1861.2 2036.0 L1865.9 2035.1 L1869.8 2036.3 L1874.0 2036.1 L1876.7 2036.6 L1880.6 2037.4 L1883.5 2038.5 L1887.6 2038.1 L1892.0 2036.5 L1896.9 2034.9 L1900.9 2035.4 L1905.3 2036.3 L1908.3 2036.6 L1912.8 2036.0 L1917.2 2035.9 L1920.4 2036.9 L1923.8 2037.2 L1928.5 2037.4 L1931.9 2037.7 L1936.0 2039.2 L1938.5 2039.4 L1942.4 2038.8 L1947.0 2038.7 L1952.1 2037.4 L1955.5 2037.5 L1959.8 2038.6 L1964.4 2039.1 L1967.6 2040.3 L1971.7 2038.6 L1975.4 2036.7 L1978.4 2036.7 L1982.8 2038.1 L1986.9 2038.8 L1990.2 2038.7 L1994.6 2038.7 L1997.6 2039.8 L2000.1 2040.1 L2003.5 2040.2 L2007.4 2040.2 L2011.4 2040.4 L2015.9 2040.7 L2019.0 2040.3 L2023.3 2039.5 L2027.0 2040.5 L2031.8 2040.7 L2036.3 2041.0 L2041.2 2041.5 L2045.6 2041.6 L2049.4 2040.8 L2054.0 2040.5 L2057.8 2040.1 L2063.3 2041.3 L2066.8 2041.5 L2070.7 2042.1 L2074.7 2041.8 L2078.7 2043.3 L2083.1 2042.8 L2087.3 2042.4 L2090.4 2042.7 L2094.0 2042.6 L2097.5 2042.8 L2101.6 2043.4 L2104.4 2043.6 L2109.2 2043.8 L2112.7 2045.2 L2116.9 2044.5 L2120.1 2042.1 L2124.3 2043.5 L2128.4 2042.8 L2130.8 2044.0 L2135.9 2045.3 L2139.8 2046.2 L2144.4 2046.9 L2149.3 2044.0 L2153.7 2044.7 L2158.2 2044.1 L2160.8 2044.5 L2165.1 2044.8 L2168.8 2045.3 L2173.2 2045.0 L2177.5 2045.8 L2182.2 2046.6 L2186.7 2046.0 L2190.6 2044.6 L2195.2 2045.3 L2198.5 2046.2 L2199.5 2046.6 L2204.0 2045.9 L2207.7 2046.1 L2212.0 2046.4 L2215.8 2046.8 L2220.2 2047.0 L2223.3 2047.1 L2227.8 2047.6 L2231.4 2047.2 L2235.8 2047.1 L2239.1 2047.6 L2243.2 2048.0 L2247.1 2047.3 L2251.4 2048.0 L2255.8 2048.6 L2259.0 2048.0 L2263.2 2048.2 L2267.1 2048.2 L2271.4 2049.0 L2275.2 2049.0 L2279.3 2048.4 L2283.3 2048.5 L2286.1 2049.0 L2290.1 2048.8 L2294.7 2048.8 L2298.3 2048.9 L2303.0 2048.4 L2306.4 2048.8 L2309.8 2048.5 L2313.9 2048.9 L2317.9 2049.5 L2321.5 2049.6 L2325.5 2050.0 L2328.5 2050.6 L2332.7 2051.2 L2336.0 2051.1 L2340.5 2051.2 L2345.4 2051.3 L2349.3 2051.7 L2353.0 2051.7 L2357.5 2051.2 L2360.5 2050.7 L2364.1 2051.8 L2367.7 2052.5 L2372.1 2052.3 L2377.7 2052.2 L2382.3 2052.3 L2383.5 2051.7" stroke="#FF0080" stroke-width="12.3"/>
</g>
<g id="guides" stroke="#000" stroke-linecap="round" fill="none">
<line x1="368.5" y1="1179.3" x2="368.5" y2="1827.7" stroke-width="4.6" stroke-dasharray="14.00 16.35"/>
<line x1="460.0" y1="172.5" x2="460.0" y2="2066.0" stroke-width="4.0" stroke-dasharray="14.60 15.75"/>
<line x1="629.0" y1="1068.0" x2="629.0" y2="2083.0" stroke-width="4.0" stroke-dasharray="14.60 15.75"/>
</g>
<g id="axes" stroke="#000" stroke-width="8.9" stroke-linecap="round" fill="none">
<path d="M319.4 33.5 V2098.5 H2382.5 V33.5 H315.0" stroke-linecap="butt" stroke-linejoin="miter"/>
<rect x="274.80" y="2094.05" width="44.65" height="8.90" rx="2.2" fill="#000" stroke="none"/>
<rect x="295.00" y="1972.54" width="24.45" height="8.90" rx="2.2" fill="#000" stroke="none"/>
<rect x="274.80" y="1851.03" width="44.65" height="8.90" rx="2.2" fill="#000" stroke="none"/>
<rect x="295.00" y="1729.52" width="24.45" height="8.90" rx="2.2" fill="#000" stroke="none"/>
<rect x="274.80" y="1608.01" width="44.65" height="8.90" rx="2.2" fill="#000" stroke="none"/>
<rect x="295.00" y="1486.50" width="24.45" height="8.90" rx="2.2" fill="#000" stroke="none"/>
<rect x="274.80" y="1364.99" width="44.65" height="8.90" rx="2.2" fill="#000" stroke="none"/>
<rect x="295.00" y="1243.48" width="24.45" height="8.90" rx="2.2" fill="#000" stroke="none"/>
<rect x="274.80" y="1121.97" width="44.65" height="8.90" rx="2.2" fill="#000" stroke="none"/>
<rect x="295.00" y="1000.46" width="24.45" height="8.90" rx="2.2" fill="#000" stroke="none"/>
<rect x="274.80" y="878.95" width="44.65" height="8.90" rx="2.2" fill="#000" stroke="none"/>
<rect x="295.00" y="757.44" width="24.45" height="8.90" rx="2.2" fill="#000" stroke="none"/>
<rect x="274.80" y="635.93" width="44.65" height="8.90" rx="2.2" fill="#000" stroke="none"/>
<rect x="295.00" y="514.42" width="24.45" height="8.90" rx="2.2" fill="#000" stroke="none"/>
<rect x="274.80" y="392.91" width="44.65" height="8.90" rx="2.2" fill="#000" stroke="none"/>
<rect x="295.00" y="271.40" width="24.45" height="8.90" rx="2.2" fill="#000" stroke="none"/>
<rect x="274.80" y="149.89" width="44.65" height="8.90" rx="2.2" fill="#000" stroke="none"/>
<rect x="295.00" y="29.00" width="24.45" height="8.90" rx="2.2" fill="#000" stroke="none"/>
<rect x="337.00" y="2098.50" width="8.90" height="44.65" rx="2.2" fill="#000" stroke="none"/>
<rect x="563.75" y="2098.50" width="8.90" height="24.45" rx="2.2" fill="#000" stroke="none"/>
<rect x="790.50" y="2098.50" width="8.90" height="44.65" rx="2.2" fill="#000" stroke="none"/>
<rect x="1017.25" y="2098.50" width="8.90" height="24.45" rx="2.2" fill="#000" stroke="none"/>
<rect x="1244.00" y="2098.50" width="8.90" height="44.65" rx="2.2" fill="#000" stroke="none"/>
<rect x="1470.75" y="2098.50" width="8.90" height="24.45" rx="2.2" fill="#000" stroke="none"/>
<rect x="1697.50" y="2098.50" width="8.90" height="44.65" rx="2.2" fill="#000" stroke="none"/>
<rect x="1924.25" y="2098.50" width="8.90" height="24.45" rx="2.2" fill="#000" stroke="none"/>
<rect x="2151.00" y="2098.50" width="8.90" height="44.65" rx="2.2" fill="#000" stroke="none"/>
<rect x="2378.05" y="2098.50" width="8.90" height="24.45" rx="2.2" fill="#000" stroke="none"/>
</g>
<g id="ticklabels">
<text transform="translate(253.00,2120.10) scale(0.9510,1)" font-size="82.00" text-anchor="end">0</text>
<clipPath id="one3"><path clip-rule="evenodd" d="M-127.6 -106.6 H82.0 V49.2 H-127.6 Z M-41.8 -8.9 H-25.4 V2.4 H-41.8 Z M-17.3 -8.9 H-1.6 V2.4 H-17.3 Z"/></clipPath><text transform="translate(254.90,1877.38) scale(0.9510,1)" font-size="82.00" text-anchor="end" clip-path="url(#one3)">1</text>
<text transform="translate(253.00,1633.96) scale(0.9510,1)" font-size="82.00" text-anchor="end">2</text>
<text transform="translate(253.00,1390.94) scale(0.9510,1)" font-size="82.00" text-anchor="end">3</text>
<text transform="translate(253.00,1148.32) scale(0.9510,1)" font-size="82.00" text-anchor="end">4</text>
<text transform="translate(253.00,904.90) scale(0.9510,1)" font-size="82.00" text-anchor="end">5</text>
<text transform="translate(253.00,661.88) scale(0.9510,1)" font-size="82.00" text-anchor="end">6</text>
<text transform="translate(253.00,419.46) scale(0.9510,1)" font-size="82.00" text-anchor="end">7</text>
<text transform="translate(253.00,175.44) scale(0.9510,1)" font-size="82.00" text-anchor="end">8</text>
<text transform="translate(340.55,2240.90) scale(0.9960,1)" font-size="99.70" text-anchor="middle">200</text>
<text transform="translate(794.05,2240.90) scale(0.9960,1)" font-size="99.70" text-anchor="middle">400</text>
<text transform="translate(1247.55,2240.90) scale(0.9960,1)" font-size="99.70" text-anchor="middle">600</text>
<text transform="translate(1701.05,2240.90) scale(0.9960,1)" font-size="99.70" text-anchor="middle">800</text>
<clipPath id="one4"><path clip-rule="evenodd" d="M-210.6 -129.6 H210.6 V59.8 H-210.6 Z M-106.2 -10.9 H-86.3 V2.9 H-106.2 Z M-76.5 -10.9 H-57.4 V2.9 H-76.5 Z"/></clipPath><text transform="translate(2154.55,2240.90) scale(0.9960,1)" font-size="99.70" text-anchor="middle" clip-path="url(#one4)">1000</text>
</g>
<text transform="translate(963.13,2416.50) scale(0.9744,1)" font-size="110.47" text-anchor="start">Wavelength, nm</text>
<text transform="translate(105.50,1617.42) rotate(-90) scale(0.9582,1)" font-size="112.21" text-anchor="start">Kubelka-Munk Units</text>
<g id="legend">
<line x1="1540.8" y1="144.5" x2="1736.6" y2="144.5" stroke="#FF80FF" stroke-width="11.6" stroke-linecap="round"/>
<text transform="translate(1760.97,174.60) scale(0.9547,1)" font-size="92.30" text-anchor="start">9.7CuZ23(SE)</text>
<line x1="1540.8" y1="251.7" x2="1736.6" y2="251.7" stroke="#008000" stroke-width="11.6" stroke-linecap="round"/>
<text transform="translate(1760.97,281.80) scale(0.9547,1)" font-size="92.30" text-anchor="start">6.4CuZ27(SE)</text>
<line x1="1540.8" y1="358.9" x2="1736.6" y2="358.9" stroke="#0000FF" stroke-width="11.6" stroke-linecap="round"/>
<clipPath id="one5"><path clip-rule="evenodd" d="M-92.3 -120.0 H682.2 V55.4 H-92.3 Z M81.3 -10.1 H99.7 V2.7 H81.3 Z M108.8 -10.1 H126.5 V2.7 H108.8 Z"/></clipPath><text transform="translate(1760.97,389.00) scale(0.9547,1)" font-size="92.30" text-anchor="start" clip-path="url(#one5)">3.1CuZ23(AE)</text>
<line x1="1540.8" y1="466.1" x2="1736.6" y2="466.1" stroke="#FF0080" stroke-width="11.6" stroke-linecap="round"/>
<text transform="translate(1760.97,496.20) scale(0.9547,1)" font-size="92.30" text-anchor="start">2.3CuZ23(AE)</text>
</g>
</svg></body></html>
